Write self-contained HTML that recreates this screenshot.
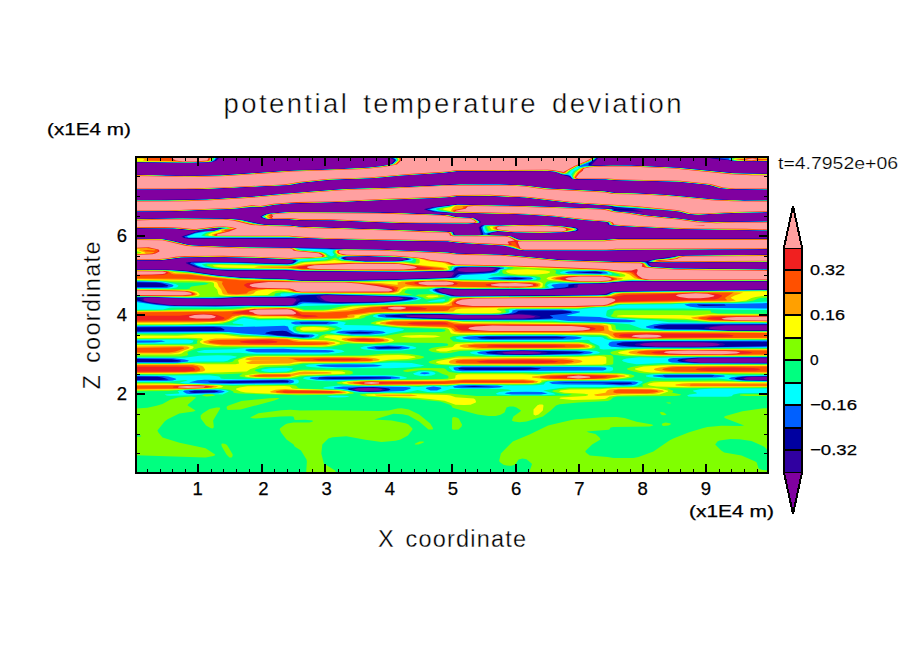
<!DOCTYPE html>
<html><head><meta charset="utf-8"><style>
html,body{margin:0;padding:0;background:#fff;width:904px;height:654px;overflow:hidden}
svg{position:absolute;left:0;top:0}
text{font-family:"Liberation Sans",sans-serif;fill:#000}
</style></head><body>
<svg width="904" height="654" viewBox="0 0 904 654" shape-rendering="crispEdges">
<rect x="0" y="0" width="904" height="654" fill="#fff"/>
<g><clipPath id="fc"><rect x="136" y="157" width="632" height="316"/></clipPath><g clip-path="url(#fc)" shape-rendering="auto"><rect x="136" y="157" width="632" height="316" fill="#8000a0"/>
<path fill="#3000a0" fill-rule="evenodd" d="M207.5 162.6 186.5 163.1 133.5 162.3 133.4 154.5 219.5 154.5 219.5 157.5 216.7 160.5 212.5 162.0 207.5 162.6ZM770.5 189.9 745.5 189.9 726.5 189.1 717.5 188.0 709.8 185.5 703.7 184.5 678.5 182.1 613.5 180.3 604.8 179.5 589.5 179.9 574.5 179.3 571.5 178.8 568.5 176.5 561.5 174.8 556.6 172.5 552.3 171.5 547.5 171.2 456.5 171.4 445.5 173.0 404.1 175.5 364.5 179.0 339.7 179.5 324.0 180.5 297.7 183.5 293.5 184.9 290.5 185.2 203.5 189.3 133.5 189.4 133.4 176.5 133.5 174.6 183.5 175.8 212.5 175.5 296.5 170.1 326.7 169.5 367.2 167.5 384.3 165.5 389.4 164.5 391.5 163.5 394.2 160.5 389.4 157.5 389.4 154.5 597.8 154.5 598.0 158.5 592.1 164.5 592.0 165.5 629.5 165.2 681.5 167.8 740.1 173.5 770.5 173.8 770.5 189.9ZM770.5 161.6 735.5 161.2 727.5 160.0 709.1 158.5 713.5 157.9 732.2 157.5 732.2 154.5 770.5 154.5 770.5 161.6ZM770.5 230.9 711.5 229.5 678.5 229.2 615.5 226.1 609.5 225.2 607.9 224.5 607.1 222.5 601.6 221.5 581.5 220.1 551.9 216.5 522.1 214.5 493.5 213.5 451.5 213.0 433.5 211.9 423.7 209.5 426.0 208.5 432.5 207.2 456.5 204.3 529.5 205.9 599.5 208.5 610.4 208.5 612.4 207.5 606.6 205.5 569.5 203.1 532.7 198.5 502.5 196.5 457.5 196.4 439.5 198.1 395.0 199.5 325.5 202.9 292.5 203.5 278.4 204.5 262.5 207.3 245.5 207.8 235.5 209.1 177.5 211.3 133.5 211.4 133.4 201.5 133.5 200.1 203.6 199.5 223.5 197.9 252.1 196.5 314.5 190.9 345.5 188.8 391.2 187.5 456.5 184.1 499.5 184.1 519.5 184.9 551.6 188.5 605.5 191.0 615.5 192.7 633.5 192.9 668.5 194.8 717.3 199.5 745.5 200.5 770.5 200.1 770.5 212.4 722.6 213.5 697.5 215.1 687.5 214.2 677.2 211.5 668.1 210.5 641.5 209.2 632.6 209.5 643.5 211.5 638.5 211.7 622.5 210.9 620.3 211.5 626.5 211.9 649.1 215.5 675.5 218.0 703.7 221.5 718.5 221.8 770.5 221.1 770.5 230.9ZM628.7 208.5 622.5 208.5 628.7 208.5ZM619.3 210.5 615.6 210.5 619.3 210.5ZM473.5 223.6 458.5 223.9 447.5 223.5 398.5 223.3 332.5 220.5 298.5 220.3 289.5 219.4 269.5 219.4 264.5 218.7 261.0 217.5 260.1 216.5 265.5 214.1 269.5 213.2 289.5 211.7 376.5 212.1 409.8 213.5 432.5 213.9 449.5 214.8 456.5 216.7 474.5 218.0 479.5 220.6 480.7 221.5 481.0 222.5 473.5 223.6ZM607.5 250.5 524.5 250.6 518.5 250.0 506.0 246.5 499.2 245.5 456.5 243.1 446.5 241.5 401.5 241.2 299.5 238.3 286.5 238.8 187.5 238.7 183.5 237.9 181.3 236.5 198.5 231.0 212.4 230.5 219.2 228.5 211.1 228.5 204.6 229.5 204.5 230.4 195.5 230.4 187.5 230.2 171.5 228.5 133.5 228.4 133.5 218.8 186.5 218.1 215.5 218.1 232.5 218.8 242.5 219.8 263.5 224.5 290.5 225.2 299.5 226.5 449.5 231.6 454.1 232.5 454.5 234.5 457.5 235.5 477.5 235.5 480.5 234.7 480.8 234.5 478.6 227.5 480.9 225.5 484.5 224.9 547.5 224.9 573.5 227.2 577.5 228.2 578.8 229.5 578.0 230.5 576.5 230.9 568.5 232.1 546.5 233.2 516.5 232.9 497.5 231.4 490.2 233.5 490.0 234.5 494.0 235.5 510.5 235.9 519.8 239.5 522.5 239.7 602.5 239.8 618.5 238.6 770.5 238.6 770.6 239.5 770.5 249.4 694.5 249.5 607.5 250.5ZM770.5 475.6 133.5 475.5 133.5 269.4 166.5 269.6 182.5 270.3 191.5 271.1 220.8 275.5 242.6 277.5 287.5 278.9 304.5 280.5 384.5 279.5 445.5 277.6 451.5 276.5 453.7 273.5 453.9 272.5 445.5 271.7 394.5 272.3 301.5 271.4 282.5 270.4 226.5 270.8 202.5 268.9 194.5 267.2 186.3 263.5 185.8 262.5 194.5 261.6 206.5 261.5 286.5 263.5 290.5 263.2 293.4 261.5 293.1 260.5 292.5 260.3 285.6 259.5 260.5 258.3 219.5 257.3 183.5 257.8 162.5 260.4 133.5 260.5 133.5 238.6 163.5 238.9 173.5 240.9 187.5 244.5 195.8 245.5 261.5 247.5 301.5 247.5 390.5 249.8 424.1 251.5 448.5 252.1 457.1 253.5 507.5 254.7 555.2 259.5 613.8 261.5 644.5 261.5 655.5 259.1 679.5 255.7 770.5 254.6 770.5 262.3 651.5 262.5 649.5 262.9 649.0 263.5 650.5 265.5 652.8 266.5 679.5 268.2 770.5 269.2 770.5 281.4 634.5 281.4 617.5 282.3 603.5 283.6 580.5 284.3 578.6 284.5 577.5 285.4 577.9 286.5 577.3 287.5 576.5 287.7 546.5 290.0 461.5 289.8 444.5 288.9 438.4 289.5 438.4 290.5 439.9 291.5 443.5 292.9 455.5 295.6 465.5 296.0 599.5 294.7 604.5 294.3 610.5 291.9 618.5 291.2 770.5 289.5 770.5 325.3 725.5 325.4 712.5 326.9 709.7 327.5 708.7 328.5 713.8 329.5 726.5 330.2 770.5 330.4 770.5 358.2 700.5 358.2 688.5 359.2 684.6 360.5 689.5 361.8 700.5 362.7 770.5 362.8 770.5 376.8 751.5 377.1 746.5 377.5 743.3 378.5 745.6 379.5 750.5 380.0 770.5 380.2 770.5 475.6ZM401.3 260.5 406.0 259.5 406.0 258.5 400.0 257.5 377.3 256.5 352.5 256.5 345.3 257.5 345.7 258.5 348.0 259.5 362.5 260.8 391.5 261.1 401.3 260.5ZM484.1 271.5 491.5 270.7 496.0 268.5 488.5 267.4 470.5 267.2 460.5 268.1 457.1 269.5 458.5 270.9 465.5 271.9 473.5 272.1 484.1 271.5ZM383.7 301.5 398.5 299.9 403.8 298.5 398.5 297.3 375.5 296.2 329.5 295.2 323.5 295.5 320.3 296.5 320.5 297.5 324.8 300.5 331.5 301.9 358.5 302.1 383.7 301.5ZM227.6 305.5 245.5 304.9 288.5 305.2 292.7 304.5 296.2 300.5 296.3 299.5 293.5 298.2 286.5 297.8 243.5 297.6 216.5 299.0 193.5 299.1 151.5 297.4 145.5 297.9 143.7 298.5 143.4 299.5 144.0 300.5 148.5 302.0 170.5 304.9 187.5 305.6 227.6 305.5ZM525.2 318.5 533.5 317.5 535.5 316.5 529.5 315.2 518.5 314.6 494.5 315.4 435.5 314.9 405.5 315.5 407.3 316.5 411.5 316.9 457.5 318.8 525.2 318.5ZM706.8 346.5 717.5 345.6 720.1 344.5 716.9 343.5 710.5 342.8 691.5 342.3 654.5 342.4 644.5 343.2 639.6 344.5 643.5 345.7 655.5 346.6 706.8 346.5ZM539.6 353.5 541.6 352.5 533.4 351.5 521.5 351.2 510.4 351.5 502.2 352.5 504.1 353.5 514.5 354.1 529.5 354.1 539.6 353.5ZM380.3 390.5 382.8 389.5 377.5 388.3 368.5 387.9 358.5 388.3 354.0 389.5 357.0 390.5 363.5 391.1 380.3 390.5Z"/>
<path fill="#0000a0" fill-rule="evenodd" d="M201.5 162.6 185.5 162.9 133.5 162.2 133.4 154.5 218.4 154.5 218.4 157.5 215.7 160.5 210.5 162.1 201.5 162.6ZM770.5 189.7 746.5 189.7 727.5 189.0 717.5 187.8 710.6 185.5 704.9 184.5 677.5 181.8 613.5 180.2 605.5 179.4 589.5 179.7 574.5 179.2 571.5 178.5 570.5 177.2 568.5 176.0 561.5 174.4 557.3 172.5 553.4 171.5 547.5 171.1 456.5 171.3 444.5 172.9 402.4 175.5 376.5 178.0 323.5 180.4 297.5 183.4 290.5 185.1 202.5 189.2 133.5 189.3 133.4 176.5 133.5 174.8 184.5 175.9 215.4 175.5 286.5 170.9 328.5 169.5 368.5 167.5 385.2 165.5 390.3 164.5 392.2 163.5 395.0 160.5 394.2 159.5 390.5 157.5 390.5 154.5 597.1 154.5 597.1 158.5 592.4 162.5 590.2 165.5 627.5 165.3 664.5 166.9 681.5 168.0 737.7 173.5 770.5 173.9 770.5 189.7ZM770.5 161.4 735.5 161.1 728.5 159.9 710.9 158.5 739.5 157.5 739.5 154.5 770.5 154.5 770.5 161.4ZM703.5 214.6 696.5 215.0 688.5 214.2 678.2 211.5 669.5 210.5 630.5 208.2 616.5 208.0 607.9 205.5 570.5 203.0 524.0 197.5 490.5 196.1 457.5 196.3 438.5 198.0 393.5 199.5 325.5 202.7 291.5 203.4 277.2 204.5 261.5 207.2 245.5 207.5 234.5 209.0 176.5 211.2 133.5 211.4 133.4 201.5 133.5 200.3 205.5 199.5 254.1 196.5 279.5 194.0 344.5 189.0 392.5 187.5 460.5 184.3 498.5 184.3 518.5 185.0 549.8 188.5 604.5 191.1 615.5 192.9 632.5 193.1 667.5 194.9 715.5 199.5 744.5 200.6 770.5 200.3 770.5 212.2 721.5 213.4 703.5 214.6ZM770.5 230.7 679.5 229.1 616.5 226.0 609.5 225.0 608.5 224.5 607.8 222.5 603.2 221.5 582.5 220.1 553.5 216.5 523.5 214.5 492.5 213.4 452.5 212.9 433.5 211.6 425.1 209.5 432.5 207.5 456.5 204.5 527.5 206.0 627.5 209.2 635.4 210.5 626.5 210.6 617.5 209.8 613.7 210.5 647.8 215.5 674.5 218.0 701.7 221.5 717.5 221.9 770.5 221.3 770.5 230.7ZM471.5 223.6 399.5 223.2 332.5 220.4 298.5 220.2 289.5 219.3 270.5 219.3 265.5 218.8 261.8 217.5 260.8 216.5 265.5 214.3 270.5 213.3 287.5 211.9 377.5 212.3 432.5 214.0 449.5 215.0 455.5 216.7 474.5 218.2 479.5 221.1 480.3 222.5 471.5 223.6ZM687.5 249.6 604.5 250.5 524.5 250.4 518.5 249.8 506.9 246.5 501.1 245.5 457.5 243.0 447.5 241.4 401.5 241.0 298.5 238.1 286.5 238.5 189.5 238.5 184.5 237.7 182.6 236.5 194.5 232.4 201.5 231.1 212.5 230.7 217.4 229.5 220.5 228.2 219.5 227.8 212.5 228.2 201.5 230.1 195.5 230.3 188.5 230.1 172.5 228.4 133.5 228.2 133.4 220.5 133.5 219.0 183.5 218.3 214.5 218.3 230.5 218.9 241.5 219.9 263.5 224.6 289.5 225.3 299.5 226.6 449.5 231.7 453.4 232.5 453.9 234.5 455.5 235.5 458.5 235.6 476.5 235.6 480.5 235.1 482.0 234.5 479.7 227.5 481.8 225.5 485.5 225.0 500.5 225.5 519.5 224.8 547.5 225.1 572.5 227.3 576.5 228.1 578.1 229.5 577.1 230.5 575.5 230.9 564.5 232.3 529.5 233.0 515.5 232.6 498.5 231.2 495.6 231.5 489.0 233.5 488.8 234.5 492.0 235.5 510.5 236.0 518.9 239.5 522.5 239.9 603.5 239.9 616.5 238.8 770.5 238.8 770.5 249.2 687.5 249.6ZM770.5 475.5 133.5 475.5 133.5 269.6 173.5 270.1 189.5 271.2 218.2 275.5 239.5 277.5 286.5 279.1 299.5 280.6 311.5 280.7 394.5 279.6 447.5 277.8 450.6 277.5 453.5 276.5 455.0 274.5 458.5 272.6 473.5 272.7 488.5 271.8 493.5 270.9 498.3 268.5 494.5 267.5 488.5 267.1 467.5 266.9 458.5 267.8 455.6 269.5 455.5 270.7 453.5 271.3 404.5 272.0 301.5 271.2 284.5 270.1 227.5 270.4 215.5 269.8 197.3 267.5 187.9 263.5 187.9 262.5 199.5 261.9 237.5 262.3 287.5 263.9 292.5 263.1 294.6 261.5 294.6 260.5 288.8 259.5 262.5 258.2 214.5 257.1 183.1 257.5 161.5 260.3 133.5 260.4 133.5 238.7 162.5 239.0 173.5 241.1 188.5 244.8 193.6 245.5 214.5 246.5 262.5 247.6 325.5 248.2 335.5 248.9 387.5 249.8 419.3 251.5 447.5 252.3 456.5 253.6 506.5 254.8 554.5 259.6 613.5 261.6 645.5 261.8 656.5 259.2 680.5 255.7 770.5 254.7 770.5 262.1 647.7 262.5 649.6 265.5 651.5 266.5 660.8 267.5 682.5 268.6 770.5 269.4 770.5 281.2 633.5 281.2 618.5 281.9 604.5 283.3 579.5 283.9 574.8 284.5 574.0 285.5 574.5 286.5 572.2 287.5 545.5 289.7 461.5 289.5 443.5 288.5 436.4 289.5 436.7 290.5 438.2 291.5 443.5 293.4 454.5 295.9 464.5 296.3 597.5 295.0 605.7 294.5 611.5 292.1 618.5 291.5 770.5 289.8 770.5 324.7 721.5 325.0 707.5 326.7 704.7 327.5 704.3 328.5 709.4 329.5 725.5 330.5 770.5 330.6 770.5 357.8 699.5 357.9 686.5 358.9 683.3 359.5 681.5 360.5 686.5 361.9 699.5 363.0 770.5 363.1 770.5 376.5 748.5 376.8 742.4 377.5 739.6 378.5 741.7 379.5 748.5 380.2 770.5 380.6 770.5 475.5ZM402.9 260.5 407.5 259.5 407.3 258.5 399.5 257.3 377.5 256.4 350.5 256.4 343.8 257.5 344.0 258.5 346.1 259.5 364.5 261.2 393.5 261.3 402.9 260.5ZM361.7 302.5 386.5 301.7 401.5 300.1 408.2 298.5 405.3 297.5 391.1 296.5 334.5 294.9 321.5 295.1 318.0 295.5 316.1 296.5 317.5 298.3 320.7 300.5 326.5 302.0 337.5 302.6 361.7 302.5ZM290.4 305.5 294.8 304.5 296.1 302.5 299.6 300.5 300.2 299.5 299.3 298.5 297.5 298.0 289.5 297.4 242.5 297.3 215.5 298.7 194.5 298.8 151.5 297.1 143.5 297.5 140.1 298.5 140.0 299.5 143.9 301.5 149.5 302.7 166.5 305.0 178.5 305.7 290.4 305.5ZM533.2 318.5 539.4 317.5 540.7 316.5 535.5 314.9 521.5 313.8 496.5 315.1 418.5 314.5 407.5 314.7 399.8 315.5 400.9 316.5 409.5 317.3 458.5 319.2 516.5 319.3 533.2 318.5ZM714.7 346.5 723.4 345.5 725.3 344.5 722.5 343.3 714.5 342.3 693.5 341.7 651.5 342.0 639.5 342.9 636.5 343.5 634.5 344.5 636.4 345.5 640.5 346.1 655.5 347.0 699.5 347.1 714.7 346.5ZM532.5 354.5 545.9 353.5 547.9 352.5 542.3 351.5 521.5 350.8 501.6 351.5 496.2 352.5 498.0 353.5 506.5 354.3 532.5 354.5ZM372.0 391.5 382.5 390.7 386.0 389.5 380.5 388.0 368.5 387.5 356.5 388.0 353.2 388.5 351.2 389.5 354.3 390.5 359.5 391.2 372.0 391.5Z"/>
<path fill="#0060ff" fill-rule="evenodd" d="M198.5 162.5 133.5 162.0 133.4 154.5 217.2 154.5 217.2 157.5 214.7 160.5 212.5 161.5 208.5 162.2 198.5 162.5ZM770.5 189.5 728.5 188.9 718.5 187.9 711.2 185.5 705.9 184.5 677.5 181.7 614.5 180.1 605.5 179.3 575.5 179.1 572.0 178.5 570.5 176.6 567.5 175.2 561.5 174.2 554.2 171.5 547.5 171.0 456.5 171.2 443.5 172.9 401.5 175.5 375.5 178.0 330.5 179.7 303.1 182.5 289.5 185.0 202.5 189.1 133.5 189.3 133.4 176.5 133.5 174.9 185.5 176.1 218.4 175.5 287.5 170.9 329.5 169.6 368.5 167.6 386.1 165.5 391.1 164.5 393.0 163.5 395.7 160.5 395.2 159.5 391.8 157.5 391.8 154.5 596.4 154.5 596.3 158.5 588.4 163.5 588.8 164.5 588.2 165.5 593.5 165.9 628.5 165.5 662.5 167.0 680.5 168.1 735.7 173.5 770.5 174.1 770.5 189.5ZM770.5 161.3 735.5 161.0 724.5 158.9 716.7 158.5 737.5 157.7 770.5 157.7 770.5 161.3ZM702.5 214.5 696.5 214.8 688.5 214.1 679.0 211.5 669.5 210.4 617.5 207.3 608.5 205.4 571.5 203.0 524.5 197.4 489.5 196.0 457.5 196.2 436.5 197.9 392.5 199.4 337.5 202.1 291.5 203.3 276.5 204.5 261.5 207.1 244.5 207.4 234.5 208.9 169.5 211.2 133.5 211.3 133.4 201.5 133.5 200.5 165.5 200.4 205.5 199.6 255.7 196.5 280.5 194.1 345.5 189.0 393.5 187.6 460.5 184.5 498.5 184.5 517.5 185.1 548.5 188.5 603.5 191.2 614.5 193.0 631.5 193.2 666.5 195.0 715.5 199.6 744.5 200.7 770.5 200.5 770.5 212.1 721.5 213.3 702.5 214.5ZM770.5 230.5 680.5 229.1 617.5 225.9 610.5 225.1 609.1 224.5 608.4 222.5 604.5 221.5 582.5 219.9 554.5 216.5 523.5 214.4 493.5 213.3 453.5 212.8 435.0 211.5 426.7 209.5 434.3 207.5 457.5 204.7 527.5 206.1 610.5 209.0 614.0 209.5 612.7 210.5 617.2 211.5 624.5 212.1 646.8 215.5 681.5 219.0 700.5 221.5 716.5 222.1 770.5 221.5 770.5 230.5ZM468.5 223.5 400.5 223.1 332.5 220.3 299.5 220.1 289.5 219.2 270.5 219.2 265.5 218.6 262.5 217.5 261.5 216.5 268.5 213.8 288.5 212.0 393.5 212.9 449.5 215.2 455.5 216.9 473.5 218.1 478.5 220.7 479.5 221.5 479.7 222.5 468.5 223.5ZM683.5 249.5 603.5 250.4 524.5 250.3 519.5 249.9 502.5 245.5 457.5 242.8 447.5 241.3 402.5 240.9 297.5 237.9 189.5 238.0 185.3 237.5 184.2 236.5 195.8 232.5 202.5 231.3 213.5 230.8 224.8 227.5 218.0 227.5 195.5 230.2 172.5 228.3 133.5 228.1 133.4 220.5 133.5 219.1 183.5 218.5 229.5 218.9 241.5 220.1 263.5 224.7 290.5 225.6 299.5 226.7 449.5 231.9 452.9 232.5 453.4 234.5 454.7 235.5 457.5 235.7 480.8 235.5 483.4 234.5 481.0 227.5 482.9 225.5 485.5 225.2 500.5 225.6 519.5 224.9 546.5 225.2 571.5 227.4 576.5 228.4 577.4 229.5 575.5 230.7 563.5 232.2 530.5 232.9 512.5 232.3 497.5 231.1 487.5 233.5 487.4 234.5 490.6 235.5 510.5 236.2 518.2 239.5 522.5 240.0 603.5 240.1 617.5 238.9 770.5 238.9 770.5 249.1 683.5 249.5ZM770.5 475.5 133.5 475.5 133.5 380.1 160.5 380.1 168.8 379.5 162.5 377.5 157.5 376.7 133.5 376.5 133.5 362.0 171.5 362.0 180.7 361.5 180.4 360.5 171.5 359.2 133.5 359.1 133.5 331.4 216.5 331.1 224.2 330.5 224.5 329.5 220.8 327.5 213.5 326.9 133.5 327.2 133.5 300.4 136.5 300.4 146.5 302.8 154.5 304.0 174.5 306.0 222.5 306.3 248.5 305.6 284.5 306.0 294.5 305.4 297.1 304.5 299.0 302.5 302.5 301.8 336.5 303.2 375.5 302.8 399.5 301.1 410.6 299.5 413.9 298.5 411.1 297.5 397.5 296.4 327.5 294.4 301.5 295.2 298.6 295.5 295.9 296.5 291.5 296.8 240.5 297.1 212.5 298.4 187.5 298.4 151.5 296.9 133.5 297.7 133.5 287.1 162.5 287.0 167.4 286.5 168.5 285.5 162.9 283.5 156.0 282.5 133.5 282.1 133.5 269.7 170.5 270.1 188.5 271.4 215.9 275.5 239.5 277.8 285.5 279.3 299.5 280.8 312.5 280.9 394.5 279.9 449.5 278.0 453.7 277.5 455.7 276.5 457.5 274.7 459.5 274.0 490.5 272.4 494.5 271.5 497.8 269.5 500.9 268.5 499.6 267.5 489.5 266.9 463.5 266.7 456.6 267.5 455.0 268.5 453.7 270.5 451.5 271.0 402.5 271.8 301.5 270.9 284.5 269.9 228.5 270.0 216.0 269.5 199.8 267.5 189.9 263.5 191.5 262.5 207.5 262.3 236.5 262.6 287.5 264.2 292.9 263.5 295.9 261.5 296.2 260.5 291.8 259.5 263.5 258.1 215.5 257.0 181.5 257.4 161.5 260.1 133.5 260.3 133.5 238.8 162.5 239.1 172.5 241.0 186.5 244.6 194.5 245.6 260.5 247.7 291.5 247.8 326.5 248.5 333.5 249.2 380.5 249.7 443.5 252.3 456.5 253.7 506.5 254.9 557.5 259.9 613.5 261.8 643.5 262.0 646.5 262.6 648.9 265.5 651.5 266.7 676.1 268.5 770.5 269.6 770.5 281.1 632.5 280.9 620.5 281.5 604.5 283.0 575.5 283.7 568.4 284.5 568.4 286.5 564.6 287.5 543.5 289.4 461.5 289.2 443.5 288.2 437.9 288.5 434.5 289.5 434.9 290.5 436.5 291.6 441.8 293.5 453.5 296.2 463.5 296.6 585.5 295.5 604.5 294.9 607.4 294.5 611.5 292.4 618.5 291.7 770.5 290.0 770.5 324.2 667.5 324.6 659.5 325.3 653.8 326.5 653.9 327.5 659.3 328.5 667.5 329.1 697.5 329.3 727.5 330.8 770.5 330.9 770.5 341.9 758.5 341.5 655.5 341.2 622.5 342.3 616.9 343.5 616.6 344.5 619.6 345.5 629.2 346.5 658.5 347.4 701.5 347.4 770.5 346.0 770.5 357.4 697.5 357.6 682.5 358.7 678.6 359.5 677.3 360.5 679.0 361.5 682.5 362.1 698.5 363.3 770.5 363.4 770.5 376.1 746.5 376.4 737.4 377.5 734.5 378.5 737.0 379.5 746.0 380.5 770.5 380.9 770.5 475.5ZM770.5 262.0 659.5 262.3 650.5 262.1 647.8 261.5 654.5 259.8 665.2 258.5 680.5 255.8 770.5 254.9 770.5 262.0ZM395.7 261.5 402.5 260.9 409.0 259.5 408.7 258.5 401.5 257.4 370.5 256.2 346.5 256.4 342.4 257.5 342.3 258.5 344.3 259.5 346.5 259.8 364.5 261.4 395.7 261.5ZM600.6 273.5 603.1 272.5 595.5 271.6 573.4 272.5 600.6 273.5ZM515.6 279.5 527.6 278.5 515.5 277.5 498.1 278.5 515.6 279.5ZM725.9 305.5 724.4 304.5 721.5 304.4 696.8 304.5 698.7 305.5 703.5 305.9 725.9 305.5ZM529.9 319.5 550.8 318.5 553.3 317.5 549.7 315.5 550.5 315.2 566.5 313.6 572.1 312.5 571.0 311.5 562.5 310.5 522.5 310.4 518.5 310.7 516.0 312.5 512.8 313.5 500.5 314.7 461.5 314.9 442.5 314.1 412.5 314.1 384.9 315.5 386.1 316.5 401.4 317.5 459.5 319.7 529.9 319.5ZM326.4 323.5 329.1 322.5 299.2 322.5 301.2 323.5 302.5 323.6 326.4 323.5ZM308.8 336.5 309.6 335.5 292.5 334.2 286.5 331.3 282.5 330.7 271.5 331.3 266.3 332.5 265.1 333.5 278.0 335.5 302.5 336.9 308.8 336.5ZM367.9 333.5 374.8 332.5 359.5 331.7 344.7 332.5 351.1 333.5 367.9 333.5ZM562.9 338.5 566.8 337.5 556.7 336.5 507.5 336.4 487.0 336.5 477.0 337.5 480.9 338.5 491.5 338.9 562.9 338.5ZM398.7 348.5 402.2 347.5 388.5 346.6 374.4 347.5 376.6 348.5 380.5 348.8 398.7 348.5ZM545.5 354.5 579.5 353.6 584.4 352.5 576.5 351.4 521.5 350.4 496.5 351.1 490.2 351.5 485.4 352.5 487.8 353.5 503.5 354.8 526.5 355.0 545.5 354.5ZM353.8 365.5 339.0 365.5 353.8 365.5ZM537.8 369.5 541.1 368.5 530.5 367.5 472.5 367.4 460.9 367.5 458.0 368.5 459.5 369.6 465.5 370.0 523.5 370.0 537.8 369.5ZM712.4 376.5 714.5 375.5 662.6 375.5 664.9 376.5 668.5 376.6 712.4 376.5ZM390.6 378.5 391.0 377.5 367.5 377.1 324.5 377.2 319.3 377.5 317.8 378.5 332.5 379.1 390.6 378.5ZM287.8 382.5 289.0 381.5 287.5 380.5 282.5 380.3 207.9 381.5 210.1 382.5 229.5 383.1 287.8 382.5ZM632.3 383.5 631.1 382.5 627.5 382.4 556.7 382.5 565.5 383.1 602.5 383.2 620.5 384.4 627.5 384.2 632.3 383.5ZM494.3 386.5 474.5 386.0 458.9 386.5 472.5 387.0 494.3 386.5ZM380.2 391.5 388.6 390.5 390.5 389.5 388.8 388.5 385.5 387.9 373.5 387.0 358.5 387.2 348.1 388.5 348.2 389.5 351.8 390.5 359.5 391.6 369.5 391.9 380.2 391.5ZM214.1 392.5 219.1 391.5 214.7 390.5 208.5 390.4 194.9 390.5 188.9 391.5 190.6 392.5 194.5 393.0 214.1 392.5Z"/>
<path fill="#00ffff" fill-rule="evenodd" d="M192.5 162.5 133.5 161.9 133.5 154.5 215.8 154.5 215.8 157.5 214.7 159.5 211.7 161.5 207.5 162.1 192.5 162.5ZM770.5 189.4 729.5 188.9 718.5 187.7 711.9 185.5 706.5 184.5 677.7 181.5 614.5 180.0 605.5 179.2 575.5 179.0 572.6 178.5 570.5 175.8 568.5 174.8 562.5 174.2 555.0 171.5 547.5 170.8 456.5 171.1 442.5 172.8 401.5 175.4 374.5 177.9 331.1 179.5 302.1 182.5 289.5 184.9 202.5 189.0 133.5 189.2 133.4 176.5 133.5 175.0 185.5 176.2 220.5 175.5 288.5 171.0 329.5 169.7 368.5 167.7 380.4 166.5 392.5 164.2 396.5 160.5 396.1 159.5 393.4 157.5 393.4 154.5 595.9 154.5 595.9 157.5 594.5 159.3 589.5 162.0 580.6 165.5 577.9 167.5 586.5 165.9 631.5 165.7 679.5 168.1 734.5 173.5 770.5 174.2 770.5 189.4ZM770.5 161.1 735.5 160.8 729.2 159.5 728.7 158.5 737.5 157.9 770.5 157.8 770.5 161.1ZM700.5 214.6 688.5 213.9 679.7 211.5 670.5 210.4 616.5 206.7 608.5 205.3 572.5 203.0 524.5 197.3 489.5 195.8 456.5 196.1 449.5 197.1 434.5 197.9 391.5 199.3 336.5 202.0 291.5 203.2 275.5 204.5 261.5 206.9 252.5 206.8 234.5 208.7 169.5 211.1 133.5 211.2 133.4 201.5 133.5 200.6 166.5 200.6 206.5 199.7 256.5 196.6 281.5 194.1 346.5 189.1 393.5 187.7 460.5 184.6 499.5 184.6 516.5 185.2 527.5 186.0 548.5 188.6 603.5 191.4 614.5 193.1 630.5 193.3 665.5 195.1 715.5 199.7 744.5 200.8 770.5 200.6 770.5 212.0 721.5 213.2 700.5 214.6ZM770.5 230.4 681.5 229.0 618.5 225.8 610.5 224.9 609.6 224.5 608.9 222.5 605.6 221.5 583.5 219.9 554.5 216.4 524.5 214.3 493.5 213.2 454.5 212.7 437.5 211.2 429.3 209.5 437.4 207.5 457.5 204.8 520.5 206.0 608.5 209.1 612.0 209.5 611.9 210.5 616.1 211.5 630.5 213.1 646.5 215.6 681.5 219.1 699.5 221.6 716.5 222.2 770.5 221.6 770.5 230.4ZM478.5 222.7 467.5 223.4 400.5 223.0 332.5 220.2 299.5 220.0 289.5 219.1 270.5 219.1 266.0 218.5 263.3 217.5 262.2 216.5 266.4 214.5 269.5 213.8 289.5 212.1 300.5 212.6 391.5 213.0 448.5 215.2 455.5 217.1 473.5 218.3 479.0 221.5 479.1 222.5 478.5 222.7ZM650.5 249.5 603.5 250.3 524.5 250.2 519.5 249.7 508.6 246.5 502.5 245.4 458.5 242.8 447.5 241.2 402.5 240.7 289.5 237.6 188.5 237.5 186.7 236.5 195.1 233.5 204.5 231.7 214.5 230.9 220.5 229.0 224.2 228.5 226.2 227.5 216.5 227.5 199.5 229.9 194.5 230.1 172.5 228.2 133.5 228.0 133.4 220.5 133.5 219.3 182.5 218.6 229.5 219.1 241.5 220.3 257.5 224.0 264.5 224.9 290.5 225.7 298.5 226.8 448.5 231.9 452.3 232.5 452.9 234.5 454.5 235.6 477.5 235.8 485.5 234.7 491.5 235.7 507.5 235.9 511.0 236.5 518.5 239.8 522.5 240.2 603.5 240.2 617.5 239.0 770.5 239.0 770.5 249.0 650.5 249.5ZM549.5 232.5 515.5 232.3 497.5 230.9 485.5 232.9 483.8 231.5 482.6 227.5 484.1 225.5 486.5 225.3 500.5 225.7 519.5 225.0 544.5 225.3 559.5 226.1 570.5 227.5 575.5 228.4 576.8 229.5 575.4 230.5 566.5 231.9 549.5 232.5ZM770.5 475.5 133.5 475.5 133.5 381.1 166.5 381.0 172.7 380.5 176.3 379.5 175.5 378.4 168.1 376.5 163.5 375.9 133.5 375.6 133.5 362.8 177.5 362.7 187.7 361.5 188.9 360.5 184.5 359.4 173.5 358.3 133.5 358.1 133.5 342.8 154.5 342.6 165.4 341.5 161.4 340.5 133.5 340.5 133.5 332.4 228.5 331.9 242.4 333.5 303.5 337.9 311.4 337.5 314.9 335.5 312.5 334.4 299.5 333.9 294.5 333.0 289.1 329.5 287.9 326.5 284.5 325.7 238.5 327.1 213.5 325.9 133.5 326.3 133.5 301.9 136.5 301.9 156.5 305.1 169.5 306.3 215.5 306.8 246.5 306.0 287.5 306.3 296.5 305.7 302.2 303.5 304.5 303.3 341.5 303.9 383.5 303.0 405.5 301.1 415.8 299.5 418.2 298.5 414.5 297.2 404.5 296.3 326.5 294.0 295.5 294.4 290.5 295.7 284.5 296.5 239.5 296.8 212.5 298.0 187.5 298.0 151.5 296.7 133.5 297.1 133.5 288.0 166.5 287.9 171.5 287.1 172.9 286.5 173.6 285.5 172.1 284.5 168.5 283.5 160.5 282.0 133.5 281.3 133.5 269.9 165.5 270.1 186.0 271.5 216.5 275.8 245.5 278.4 285.5 279.6 301.5 281.0 354.5 280.9 397.5 280.1 454.5 278.1 457.7 277.5 460.4 275.5 462.5 275.1 483.5 274.1 494.5 272.7 496.5 272.0 499.5 269.5 503.8 268.5 504.1 267.5 485.5 266.5 458.5 266.4 454.5 267.3 452.5 270.1 450.5 270.7 404.5 271.6 302.5 270.8 285.5 269.6 228.5 269.6 217.5 269.2 203.6 267.5 197.3 265.5 193.7 263.5 205.5 262.8 234.5 263.1 287.5 264.6 293.5 263.8 298.5 260.5 295.4 259.5 262.5 257.9 215.5 256.8 181.5 257.3 160.5 260.1 133.5 260.1 133.5 238.9 161.5 239.2 172.5 241.2 186.5 244.8 193.5 245.7 215.5 246.7 260.5 247.8 291.5 247.9 304.5 248.8 331.5 249.5 380.5 249.8 447.5 252.6 456.5 253.8 504.5 254.9 557.5 260.0 613.5 261.9 642.5 262.1 645.5 262.7 648.5 265.8 651.5 266.9 674.5 268.6 770.5 269.7 770.5 280.9 632.5 280.7 620.5 281.2 602.5 282.9 560.2 283.5 552.7 284.5 551.2 285.5 554.6 287.5 550.6 288.5 542.5 289.1 462.5 288.9 443.5 288.0 435.5 288.4 432.5 289.5 432.8 290.5 434.3 291.5 438.5 293.2 445.5 294.5 451.5 296.4 460.5 296.8 596.5 295.6 606.5 295.0 608.8 294.5 612.8 292.5 618.5 292.0 770.5 290.2 770.5 303.0 736.5 303.7 695.5 303.4 690.4 303.5 684.4 304.5 686.2 305.5 690.5 306.7 699.5 307.8 770.5 308.5 770.5 323.5 662.5 323.4 654.5 324.2 645.9 326.5 646.3 327.5 650.6 328.5 664.5 329.9 701.5 330.1 728.5 331.1 770.5 331.1 770.5 340.6 625.5 341.0 612.1 341.5 609.3 342.5 608.3 344.5 609.5 345.9 611.5 346.8 622.5 347.5 689.5 347.8 770.5 347.3 770.5 357.1 697.5 357.2 673.5 358.1 669.6 358.5 668.0 359.5 668.5 361.5 672.0 362.5 694.5 363.6 770.5 363.8 770.5 375.6 742.5 376.1 731.5 377.2 728.6 378.5 731.2 379.5 742.5 380.7 770.5 381.2 770.5 475.5ZM770.5 261.8 661.5 262.2 648.9 261.5 654.5 259.9 667.3 258.5 680.5 256.0 770.5 255.0 770.5 261.8ZM399.1 261.5 411.0 259.5 410.1 258.5 401.5 257.2 369.5 256.1 345.5 256.3 341.5 257.2 340.5 258.5 344.5 259.9 365.5 261.7 399.1 261.5ZM608.1 273.5 607.3 272.5 605.0 271.5 597.5 270.9 574.5 271.1 568.8 271.5 564.8 272.5 568.5 273.5 576.5 273.8 601.5 274.1 608.1 273.5ZM530.9 279.5 533.3 278.5 531.3 277.5 528.5 277.2 510.5 276.5 493.5 277.3 487.3 278.5 493.5 279.5 507.5 280.1 521.5 280.1 530.9 279.5ZM635.5 321.5 635.1 320.5 625.5 319.6 610.5 319.1 599.5 316.9 568.5 316.0 566.2 315.5 579.6 312.5 580.0 311.5 561.2 309.5 516.5 309.6 512.3 310.5 512.4 311.5 511.7 312.5 508.7 313.5 498.3 314.5 461.5 314.6 443.5 313.8 408.5 313.8 383.5 314.3 380.5 314.5 377.4 315.5 378.3 316.5 379.5 316.8 386.5 317.7 460.5 320.2 521.5 320.3 555.5 319.6 568.5 321.0 619.5 322.2 629.5 322.2 635.5 321.5ZM328.6 324.5 337.5 323.6 338.4 322.5 329.5 321.4 312.5 321.2 295.5 321.4 291.1 322.5 291.5 323.6 295.3 324.5 328.6 324.5ZM369.5 334.5 382.3 333.5 385.8 332.5 383.0 331.5 377.5 330.8 359.5 330.3 343.5 330.8 338.2 331.5 335.8 332.5 340.8 333.5 351.5 334.5 369.5 334.5ZM573.6 339.5 580.5 338.5 582.0 337.5 576.0 336.5 561.5 335.8 507.5 335.7 475.5 336.0 467.8 336.5 462.2 337.5 463.5 338.5 470.2 339.5 485.5 340.0 552.5 340.1 573.6 339.5ZM400.7 349.5 408.8 348.5 409.9 347.5 401.5 346.0 388.5 345.5 375.5 346.0 366.9 347.5 367.9 348.5 378.5 349.8 400.7 349.5ZM328.1 352.5 334.9 351.5 332.6 350.5 325.5 349.9 301.5 349.7 283.5 348.7 249.5 349.0 245.7 349.5 245.5 350.5 248.5 351.5 256.5 352.6 328.1 352.5ZM581.4 354.5 590.8 353.5 593.1 352.5 589.5 351.4 578.9 350.5 521.5 350.1 491.9 350.5 480.5 351.5 476.9 352.5 478.6 353.5 484.5 354.5 498.5 355.2 531.5 355.3 581.4 354.5ZM377.1 366.5 382.4 365.5 373.6 364.5 346.5 364.3 324.5 364.5 315.6 365.5 320.5 366.6 337.5 367.3 356.5 367.3 377.1 366.5ZM603.1 370.5 606.2 369.5 606.5 368.5 605.1 367.5 600.5 367.2 525.5 366.6 462.5 366.6 453.4 367.5 454.0 369.5 455.7 370.5 462.5 371.2 603.1 370.5ZM429.7 373.5 428.3 372.5 424.5 372.3 421.6 372.5 419.9 373.5 424.5 374.3 429.7 373.5ZM715.1 377.5 724.8 376.5 724.3 375.5 710.5 374.4 665.5 374.4 653.0 375.5 653.6 376.5 654.5 376.6 666.5 377.7 715.1 377.5ZM381.6 379.5 398.5 378.6 399.8 378.5 399.8 377.5 392.5 376.4 384.5 376.0 327.5 376.3 312.5 377.2 310.5 377.5 309.6 378.5 316.5 379.7 326.5 380.2 381.6 379.5ZM290.1 383.5 293.6 382.5 293.9 381.5 293.5 380.5 289.5 379.6 284.5 379.4 228.5 380.0 204.5 379.7 197.5 380.3 189.0 382.5 205.5 383.5 231.5 384.1 290.1 383.5ZM635.2 384.5 638.6 382.5 634.5 381.5 622.5 381.2 559.5 381.3 554.0 381.5 549.0 382.5 552.5 383.9 563.5 384.6 599.5 384.7 623.5 385.5 631.5 385.2 635.2 384.5ZM499.6 387.5 503.5 386.5 497.5 385.4 474.5 385.1 458.5 385.3 452.8 386.5 454.5 387.7 461.5 388.2 488.5 388.2 499.6 387.5ZM390.3 391.5 403.5 390.9 410.8 388.5 410.3 387.5 405.5 387.1 376.5 386.5 343.5 386.6 333.9 387.5 334.3 388.5 342.5 389.0 359.5 392.1 372.5 392.3 390.3 391.5ZM437.0 390.5 441.5 388.5 440.6 387.5 433.5 386.6 426.8 387.5 425.7 388.5 430.5 390.5 437.0 390.5ZM204.7 393.5 218.5 393.2 222.5 392.5 225.0 391.5 220.5 390.2 210.5 389.6 186.5 390.3 184.4 390.5 183.0 391.5 186.3 393.5 189.5 394.1 204.7 393.5ZM540.8 394.5 547.7 393.5 541.5 392.1 526.5 391.7 510.5 392.1 507.0 392.5 504.6 393.5 511.8 394.5 540.8 394.5Z"/>
<path fill="#00ff80" fill-rule="evenodd" d="M210.5 161.6 189.5 162.4 133.5 161.8 133.5 154.5 214.4 154.5 214.4 157.5 213.6 159.5 212.9 160.5 210.5 161.6ZM210.5 188.5 184.5 189.1 133.5 189.1 133.5 175.1 186.5 176.4 220.5 175.7 289.5 171.0 330.5 169.8 368.5 167.8 380.5 166.6 392.6 164.5 394.3 163.5 397.1 160.5 397.0 159.5 395.0 157.5 395.0 154.5 595.3 154.5 595.3 157.5 594.5 158.7 590.5 161.1 577.7 166.5 571.2 170.5 568.5 173.5 566.5 174.1 562.5 173.9 555.5 171.5 547.5 170.7 456.5 171.0 441.5 172.8 400.5 175.3 373.5 177.9 329.5 179.5 301.5 182.5 288.5 184.8 210.5 188.5ZM770.5 161.0 737.5 160.8 734.1 160.5 730.7 159.5 731.1 158.5 736.5 158.1 770.5 158.0 770.5 161.0ZM770.5 189.3 729.5 188.8 719.5 187.8 712.4 185.5 706.5 184.3 678.5 181.4 615.5 179.9 605.5 179.1 576.5 179.0 573.1 178.5 571.2 174.5 573.5 171.3 578.5 168.4 583.5 166.9 588.5 166.3 613.5 165.7 634.5 165.9 678.5 168.2 734.5 173.7 770.5 174.4 770.5 189.3ZM697.5 214.5 688.5 213.8 679.5 211.3 670.5 210.2 572.5 202.8 524.5 197.2 488.5 195.7 456.5 196.0 449.5 197.0 433.5 197.8 334.5 202.0 291.5 203.1 275.5 204.4 260.5 206.9 252.5 206.6 232.5 208.7 168.5 211.1 133.5 211.1 133.4 201.5 133.5 200.7 166.5 200.7 206.5 199.8 256.5 196.7 282.5 194.2 346.5 189.2 394.5 187.8 460.5 184.7 514.5 185.2 526.5 186.0 547.5 188.7 604.5 191.6 614.5 193.3 630.5 193.4 664.5 195.1 715.5 199.8 743.5 200.9 770.5 200.7 770.5 211.9 742.5 212.4 697.5 214.5ZM770.5 230.3 681.5 228.8 618.5 225.7 610.5 224.6 609.5 222.5 606.5 221.5 583.5 219.8 555.5 216.3 526.5 214.3 454.0 212.5 438.7 210.5 436.2 209.5 436.3 208.5 453.5 205.2 458.5 205.0 519.5 206.1 608.5 209.2 610.7 209.5 611.3 210.5 615.1 211.5 629.5 213.1 646.5 215.7 680.5 219.1 699.5 221.7 716.5 222.4 770.5 221.7 770.5 230.3ZM477.5 222.7 466.5 223.3 400.5 222.8 332.5 220.1 299.5 219.9 289.5 219.0 270.5 219.0 266.6 218.5 262.9 216.5 267.0 214.5 269.5 213.9 289.5 212.2 300.5 212.7 390.5 213.1 448.5 215.3 455.5 217.2 473.5 218.4 478.5 221.5 478.5 222.5 477.5 222.7ZM647.5 249.5 603.5 250.2 524.5 250.1 519.5 249.5 510.5 246.8 503.5 245.3 459.5 242.7 447.5 241.1 369.5 239.9 287.5 237.1 214.5 236.9 204.5 236.3 201.1 235.5 205.9 232.5 215.5 230.9 221.5 229.0 227.6 228.5 227.3 227.5 216.5 227.4 194.5 230.0 173.5 228.2 133.5 227.9 133.4 220.5 133.5 219.4 179.5 218.7 228.5 219.1 241.5 220.5 258.9 224.5 270.5 225.5 289.5 225.8 298.5 226.9 448.5 232.0 451.8 232.5 452.5 234.6 453.3 235.5 454.5 235.7 476.5 235.9 485.5 235.3 507.5 236.0 510.4 236.5 517.5 239.7 522.5 240.3 603.5 240.3 617.5 239.1 770.5 239.1 770.5 239.5 770.5 248.9 647.5 249.5ZM546.5 232.5 514.5 232.2 496.5 230.7 487.5 231.7 486.0 230.5 484.4 226.5 485.9 225.5 488.5 225.4 500.5 225.8 519.5 225.1 544.5 225.4 559.5 226.3 569.5 227.5 575.2 228.5 576.1 229.5 574.5 230.5 565.5 231.8 546.5 232.5ZM770.5 475.5 133.5 475.5 133.5 381.9 168.5 381.7 185.5 380.0 187.8 380.5 179.5 382.5 184.5 383.6 234.5 384.9 292.5 384.1 297.2 383.5 298.6 382.5 298.8 381.5 298.7 380.5 297.3 379.5 291.5 378.9 224.5 378.9 220.6 378.5 220.4 377.5 219.0 376.5 209.5 375.2 174.5 375.5 133.5 374.9 133.5 363.3 174.5 363.3 197.5 361.5 223.5 361.4 227.5 360.7 230.5 359.1 236.0 357.5 236.8 356.5 230.5 355.4 217.5 355.2 199.5 355.7 184.5 357.8 133.5 357.4 133.5 343.8 189.3 343.5 192.6 342.5 193.7 340.5 186.5 339.5 133.5 339.6 133.5 333.3 225.5 332.8 241.3 334.5 307.5 338.6 314.5 337.9 318.3 335.5 318.6 334.5 314.5 333.5 297.4 332.5 295.0 331.5 292.8 329.5 292.7 327.5 293.5 326.5 296.5 325.7 302.5 325.3 335.5 325.7 342.0 328.5 340.7 329.5 331.5 331.5 329.7 332.5 334.2 333.5 355.5 335.4 371.5 335.3 385.5 334.3 402.8 330.5 404.3 329.5 400.6 328.5 370.9 325.5 345.5 324.9 343.8 324.5 345.5 323.5 345.7 322.5 338.5 321.3 297.5 320.6 284.5 319.9 257.5 320.2 244.5 318.1 241.3 318.5 232.3 322.5 233.3 323.5 243.1 324.5 243.3 325.5 211.5 325.1 133.5 325.7 133.5 309.7 163.0 309.5 169.5 307.8 173.5 307.4 227.5 307.4 247.5 306.4 291.5 306.7 305.5 305.9 381.5 303.8 406.5 302.0 418.5 300.0 421.5 298.5 417.5 296.9 409.5 296.0 334.5 293.8 285.5 293.2 281.2 293.5 280.1 294.5 281.1 295.5 272.9 296.5 250.5 296.3 215.5 297.6 191.5 297.7 151.5 296.4 133.5 296.7 133.5 288.5 170.5 288.4 176.3 287.5 178.0 286.5 178.5 285.5 175.5 284.1 162.7 281.5 133.5 280.8 133.5 270.0 168.5 270.4 189.5 272.3 214.5 275.9 236.5 278.1 285.5 279.8 301.5 281.2 366.5 281.0 449.5 278.8 521.5 280.7 532.5 280.1 535.7 279.5 537.0 278.5 534.5 277.2 527.5 276.4 489.4 275.5 491.3 274.5 497.5 273.3 498.9 272.5 500.5 270.1 507.3 268.5 507.8 267.5 494.5 266.5 456.5 266.1 453.3 266.5 452.2 267.5 451.9 269.5 449.5 270.5 404.5 271.4 302.5 270.5 285.5 269.4 228.5 269.1 214.9 268.5 205.3 266.5 201.8 264.5 206.5 263.6 217.5 263.5 288.5 265.0 293.5 264.3 297.5 262.3 301.5 261.1 324.5 259.6 328.3 258.5 327.5 258.0 308.5 259.1 294.5 259.2 255.5 257.5 207.5 256.7 180.5 257.2 160.5 259.9 133.5 260.0 133.5 239.1 161.5 239.3 171.5 241.1 186.5 244.9 192.5 245.7 216.5 246.9 294.5 248.2 297.2 248.5 300.5 249.8 322.5 251.7 325.5 252.8 330.5 256.1 331.5 256.2 333.5 255.5 334.2 254.5 332.6 252.5 332.8 250.5 336.5 249.7 381.5 250.0 447.5 252.7 456.5 253.9 504.5 255.0 559.5 260.3 613.5 262.0 641.5 262.2 645.5 263.1 648.5 266.3 650.5 267.0 674.5 268.7 770.5 269.9 770.5 280.7 633.5 280.3 620.5 280.9 601.5 282.7 553.5 282.7 550.5 283.2 547.8 284.5 547.0 285.5 549.5 287.5 542.5 288.7 462.5 288.7 442.5 287.7 433.5 288.3 429.5 289.5 429.5 290.5 430.5 291.3 434.5 293.0 446.5 295.4 449.5 296.8 455.5 297.1 597.5 295.8 607.5 295.1 614.5 292.5 618.5 292.2 770.5 290.5 770.5 301.5 735.5 302.9 692.5 302.9 671.5 304.3 622.5 304.8 618.5 305.3 611.5 307.1 596.5 307.6 578.5 309.5 558.5 308.9 514.5 309.1 509.7 309.5 508.6 310.5 509.4 311.5 508.6 312.5 505.5 313.5 496.5 314.2 461.5 314.3 440.5 313.3 384.5 313.5 375.7 314.5 373.3 315.5 372.9 316.5 377.5 318.0 383.5 318.5 442.5 319.6 461.5 320.7 552.5 320.8 567.5 322.0 606.5 322.6 629.5 324.3 641.5 328.5 663.9 330.5 770.5 331.4 770.5 340.0 614.5 340.3 607.5 339.8 604.5 338.7 603.0 337.5 600.5 337.0 591.5 337.1 573.9 335.5 555.5 335.1 475.5 335.3 459.5 336.4 455.5 337.5 456.5 338.7 461.5 340.0 474.5 341.0 566.5 341.0 587.5 339.8 589.5 340.3 590.0 341.5 591.7 342.5 598.5 345.5 599.5 346.5 599.6 348.5 600.5 349.1 603.5 349.6 631.5 348.2 770.5 347.9 770.5 356.7 699.5 356.7 660.5 357.8 639.5 357.2 626.6 358.5 623.0 359.5 622.0 360.5 623.4 361.5 627.5 362.7 636.5 364.2 661.5 363.1 699.5 364.2 770.5 364.1 770.5 375.0 735.5 375.5 713.5 374.0 665.5 373.8 651.4 374.5 645.8 375.5 646.2 376.5 649.5 377.3 663.5 378.6 718.5 378.5 740.5 381.1 770.5 381.5 770.5 388.5 713.5 388.5 700.5 389.2 693.1 390.5 693.5 391.5 696.3 392.5 696.9 393.5 689.5 394.4 687.1 395.5 688.4 396.5 691.5 396.7 727.5 396.7 731.5 396.3 733.5 394.4 739.5 393.3 770.5 393.0 770.5 475.5ZM770.5 261.7 670.5 262.1 655.5 262.0 649.9 261.5 654.5 260.1 669.4 258.5 677.3 256.5 681.5 256.0 770.5 255.1 770.5 261.7ZM401.7 261.5 411.5 261.0 413.7 259.5 412.1 258.5 399.5 257.0 367.5 255.9 343.5 256.2 339.5 257.4 338.7 258.5 340.4 259.5 343.5 260.2 364.5 261.9 393.5 262.1 401.7 261.5ZM611.9 274.5 611.8 273.5 607.7 271.5 600.5 270.5 570.5 270.4 563.5 271.0 559.7 272.5 561.1 273.5 568.5 274.1 611.9 274.5ZM442.9 301.5 445.0 300.5 445.1 299.5 443.5 299.0 440.5 299.2 426.8 301.5 430.5 302.1 442.9 301.5ZM770.5 323.0 669.5 322.2 656.5 320.5 612.5 318.1 607.1 316.5 606.1 315.5 606.2 314.5 606.7 311.5 607.5 310.3 610.5 309.1 616.5 308.6 684.5 308.6 729.5 309.8 770.5 310.0 770.5 323.0ZM401.9 350.5 413.5 349.1 415.7 348.5 416.4 347.5 412.5 346.2 404.5 345.1 391.5 344.5 372.5 345.2 364.5 346.2 360.3 347.5 361.0 348.5 363.5 349.2 376.5 350.8 401.9 350.5ZM334.5 353.5 341.5 352.6 344.7 351.5 341.5 350.0 331.5 348.7 283.5 347.7 245.5 347.9 232.5 349.2 204.5 350.1 196.6 351.5 198.6 352.5 205.5 353.1 239.5 352.8 255.5 354.1 320.5 354.2 334.5 353.5ZM564.6 355.5 588.5 354.7 598.3 353.5 600.1 352.5 596.5 350.9 588.5 350.2 521.5 349.7 486.5 350.2 472.7 351.5 469.8 352.5 470.9 353.5 475.5 354.5 489.5 355.7 564.6 355.5ZM408.8 367.5 420.4 366.5 424.4 365.5 411.5 362.9 393.5 362.4 368.5 363.6 320.5 363.8 308.9 364.5 305.2 365.5 306.8 366.5 310.5 367.1 326.5 368.2 389.5 368.2 408.8 367.5ZM609.8 371.5 612.5 370.5 613.2 369.5 612.9 367.5 609.5 366.5 605.5 366.3 459.5 366.1 449.1 366.5 448.8 367.5 452.5 370.9 460.5 372.0 598.5 372.1 609.8 371.5ZM286.7 371.5 292.1 369.5 293.0 368.5 286.5 367.7 270.5 368.2 261.7 369.5 261.1 370.5 264.7 371.5 269.5 371.9 286.7 371.5ZM431.4 375.5 434.5 374.6 435.6 373.5 434.6 372.5 431.5 371.6 424.5 371.0 418.5 371.6 413.0 373.5 414.5 374.7 420.5 375.9 426.5 376.0 431.4 375.5ZM346.6 380.5 396.5 379.5 406.3 378.5 406.8 377.5 400.5 376.1 390.5 375.2 361.5 375.0 314.5 376.2 305.5 377.1 304.0 377.5 302.9 378.5 307.5 379.8 320.5 381.1 331.5 381.3 346.6 380.5ZM555.6 394.5 554.0 393.5 543.2 390.5 559.5 388.0 568.5 387.3 600.5 387.1 633.5 386.2 637.5 385.4 642.6 382.5 642.5 381.5 638.5 380.6 629.5 380.2 557.5 380.9 547.9 381.5 545.4 382.5 543.8 384.5 536.5 385.2 512.5 385.5 491.5 384.7 462.5 384.6 455.5 385.0 447.5 386.4 432.5 385.8 418.5 386.9 404.5 386.1 359.5 386.0 338.5 385.4 325.5 387.0 323.6 387.5 323.4 388.5 342.5 389.8 355.5 392.2 363.5 392.8 405.5 392.2 411.3 391.5 417.5 389.9 427.5 391.9 434.5 392.3 441.5 391.7 450.5 389.1 502.5 389.0 508.4 389.5 511.7 390.5 499.5 392.0 495.9 393.5 497.2 394.5 509.5 395.2 544.5 395.2 555.6 394.5ZM181.7 395.5 195.5 395.2 207.5 393.9 222.5 394.4 229.0 391.5 225.5 390.1 217.5 389.2 188.5 389.7 179.6 390.5 177.7 391.5 179.1 392.5 179.1 393.5 164.5 394.5 166.9 395.5 170.5 395.8 181.7 395.5ZM349.8 396.5 347.5 395.9 342.5 395.7 332.5 395.8 326.7 396.5 330.5 397.3 337.5 397.5 345.5 397.3 349.8 396.5Z"/>
<path fill="#80ff00" fill-rule="evenodd" d="M209.5 161.6 188.5 162.3 133.5 161.7 133.5 154.5 213.2 154.5 213.2 157.5 212.6 159.5 212.0 160.5 209.5 161.6ZM208.5 188.5 133.5 189.0 133.5 175.2 186.5 176.5 220.5 175.8 290.5 171.1 331.5 169.8 368.5 167.9 380.5 166.7 393.3 164.5 397.8 160.5 397.8 159.5 396.3 157.5 396.3 154.5 594.8 154.5 594.8 157.5 593.5 158.9 588.5 161.6 576.8 166.5 569.8 170.5 566.7 173.5 565.5 173.8 562.5 173.7 555.5 171.3 547.5 170.5 456.5 170.9 441.5 172.6 400.5 175.2 372.5 177.8 329.5 179.4 301.5 182.3 288.5 184.7 208.5 188.5ZM770.5 160.8 737.5 160.6 732.0 159.5 732.9 158.5 736.5 158.2 770.5 158.2 770.5 160.8ZM770.5 189.2 730.5 188.7 719.5 187.6 707.5 184.3 678.5 181.3 616.5 179.8 606.5 179.1 576.5 178.9 573.7 178.5 573.0 177.5 572.7 175.5 575.2 171.5 579.6 168.5 583.5 167.3 590.5 166.4 610.5 165.8 630.5 165.9 661.5 167.3 679.5 168.4 733.5 173.7 770.5 174.5 770.5 189.2ZM712.5 213.6 698.5 214.4 692.5 214.1 687.8 213.5 680.5 211.4 671.5 210.2 628.9 206.5 616.5 206.1 608.5 205.1 573.5 202.8 525.5 197.2 488.5 195.5 456.5 195.9 448.5 196.9 432.5 197.7 333.5 201.9 290.5 203.1 275.5 204.2 260.5 206.8 252.5 206.4 232.5 208.5 168.5 211.0 133.5 211.0 133.4 201.5 133.5 200.8 166.5 200.8 206.5 199.9 257.5 196.7 308.5 192.1 347.5 189.3 395.5 187.8 460.5 184.8 513.5 185.3 526.5 186.1 547.5 188.8 604.5 191.7 614.5 193.4 630.5 193.6 664.5 195.2 714.5 199.9 743.5 201.0 770.5 200.8 770.5 211.8 743.5 212.2 712.5 213.6ZM770.5 230.2 682.5 228.8 619.5 225.6 610.6 224.5 610.0 222.5 606.5 221.4 584.5 219.7 555.5 216.2 527.5 214.2 454.5 212.4 440.5 209.9 439.4 209.5 439.4 208.5 448.5 207.0 454.5 205.3 475.5 205.2 607.5 209.3 609.5 209.5 610.7 210.5 614.5 211.6 629.5 213.2 645.5 215.7 680.5 219.2 699.5 221.8 716.5 222.5 770.5 221.8 770.5 230.2ZM477.5 222.6 466.5 223.2 401.5 222.8 333.5 220.0 299.5 219.8 289.5 218.9 270.5 218.9 267.3 218.5 263.8 216.5 267.6 214.5 269.5 214.1 289.5 212.4 387.5 213.1 447.5 215.4 455.5 217.4 473.1 218.5 478.1 221.5 477.5 222.6ZM621.5 249.5 603.5 250.1 524.5 250.0 520.0 249.5 511.5 246.8 503.5 245.2 460.5 242.6 448.5 241.1 338.5 238.9 297.7 237.5 286.5 236.6 213.5 236.3 204.6 235.5 205.3 234.5 209.1 232.5 216.5 231.1 221.5 229.3 230.5 228.5 227.5 227.4 218.5 227.2 193.5 229.9 174.5 228.1 133.5 227.8 133.4 220.5 133.5 219.6 179.5 218.8 228.5 219.2 240.7 220.5 245.5 222.0 257.8 224.5 269.5 225.6 289.5 225.9 298.5 227.0 448.5 232.1 451.2 232.5 452.8 235.5 454.5 235.8 485.5 235.6 507.5 236.1 510.5 236.8 517.5 239.9 522.5 240.5 603.5 240.5 617.5 239.2 770.5 239.5 770.5 248.8 621.5 249.5ZM541.5 232.5 513.5 232.1 496.5 230.5 490.5 231.0 488.8 230.5 486.4 226.5 490.5 225.7 501.5 225.9 519.5 225.2 545.5 225.6 558.5 226.3 568.2 227.5 574.3 228.5 575.4 229.5 573.4 230.5 564.5 231.8 541.5 232.5ZM163.5 259.6 133.5 259.9 133.5 253.0 139.0 252.5 133.5 251.9 133.5 239.2 161.5 239.4 171.5 241.3 185.5 244.8 192.5 245.8 250.5 247.8 293.5 248.2 295.9 248.5 299.8 250.5 321.5 252.2 325.5 254.1 327.9 256.5 325.5 257.3 318.5 258.0 292.5 258.9 256.5 257.4 220.5 256.6 184.5 256.9 178.5 257.3 163.5 259.6ZM229.5 296.5 188.5 297.3 151.5 296.2 133.5 296.4 133.5 288.9 186.5 289.3 190.0 288.5 189.9 287.5 191.5 286.5 206.5 284.4 208.9 283.5 204.5 282.4 176.5 282.5 160.5 280.8 133.5 280.3 133.5 270.2 166.5 270.5 188.3 272.5 212.5 276.0 234.5 278.2 249.5 279.2 285.5 280.1 301.5 281.4 368.5 281.3 446.5 279.2 460.5 280.0 524.5 281.1 537.6 280.5 540.5 279.6 541.0 278.5 539.5 277.1 535.5 276.3 510.5 274.9 503.5 273.8 502.5 272.8 502.2 270.5 505.1 269.5 512.3 268.5 513.9 267.5 502.5 266.5 455.5 265.8 450.7 266.5 450.2 267.5 450.7 269.5 446.9 270.5 391.5 271.1 303.5 270.3 286.5 269.1 222.5 268.4 213.0 267.5 207.1 265.5 206.7 264.5 218.5 264.1 289.5 265.4 294.8 264.5 300.5 262.2 325.5 260.5 329.5 259.7 335.5 257.5 338.2 259.5 341.5 260.4 366.5 262.3 395.5 262.3 405.5 261.7 413.5 262.9 415.5 262.4 416.5 259.5 414.6 258.5 407.3 257.5 389.5 256.3 360.5 255.7 343.5 256.0 337.5 256.7 336.7 256.5 336.8 254.5 334.5 252.5 334.7 250.5 335.5 250.2 344.5 249.5 382.5 250.1 447.5 252.9 456.5 254.0 504.5 255.2 560.5 260.4 613.5 262.1 640.5 262.3 644.5 263.0 648.0 266.5 650.5 267.2 674.5 268.9 770.5 270.0 770.5 270.5 770.5 280.5 652.5 280.5 632.5 279.9 605.5 282.2 592.5 282.5 571.5 282.4 549.5 281.3 547.2 281.5 546.1 282.5 544.5 285.5 545.7 287.5 541.5 288.2 464.5 288.4 445.5 287.5 436.5 287.6 424.5 289.0 407.7 289.5 405.5 290.5 404.3 292.5 406.5 293.6 412.9 294.5 407.5 295.0 331.5 293.4 299.5 293.3 283.5 292.0 275.5 293.3 274.4 294.5 274.6 295.5 272.5 295.8 229.5 296.5ZM769.5 261.5 672.5 262.0 651.0 261.5 655.5 260.1 671.4 258.5 678.1 256.5 681.5 256.1 770.5 255.2 770.5 261.5 769.5 261.5ZM620.4 275.5 619.1 274.5 609.8 271.5 604.5 270.4 572.5 269.5 552.1 269.5 555.9 270.5 556.2 271.5 555.4 272.5 555.5 273.5 558.8 274.5 605.5 275.0 617.5 276.0 620.4 275.5ZM203.5 324.5 133.5 325.0 133.5 310.5 160.5 310.5 178.5 309.6 231.5 309.1 239.8 308.5 244.5 307.4 253.5 307.0 292.5 307.2 297.5 307.7 304.5 309.7 322.5 309.8 328.2 309.5 341.1 306.5 350.5 305.5 423.5 303.7 442.5 302.7 447.5 301.5 448.8 300.5 449.5 298.5 450.5 298.0 454.5 297.4 598.5 296.0 608.5 295.3 614.5 293.0 619.5 292.4 770.5 290.8 770.5 297.4 760.5 298.0 758.0 298.5 753.6 300.5 745.5 301.8 731.5 302.4 687.5 302.5 670.5 303.4 620.5 304.0 616.5 304.4 612.5 305.9 607.5 306.6 591.5 307.2 576.5 308.7 511.5 308.6 504.2 309.5 506.3 311.5 505.5 312.5 501.4 313.5 496.5 313.8 461.5 313.8 441.5 312.9 381.5 313.2 372.1 314.5 365.4 316.5 364.5 317.6 360.5 318.8 344.5 320.4 300.5 320.1 284.5 318.7 259.5 319.1 243.5 316.6 239.1 317.5 231.5 321.1 222.5 323.7 203.5 324.5ZM435.5 298.6 426.5 299.4 422.5 297.2 415.7 295.5 418.5 294.6 432.5 294.0 444.3 295.5 444.8 296.5 435.5 298.6ZM770.5 322.4 707.5 322.0 688.5 320.2 616.5 317.7 611.5 316.6 611.0 315.5 613.1 313.5 613.6 311.5 615.2 310.5 618.5 310.2 708.5 310.4 710.3 310.5 711.2 312.5 717.8 313.5 770.5 313.8 770.5 322.4ZM181.5 356.5 133.5 356.5 133.5 344.4 193.5 344.5 197.4 343.5 196.9 341.5 197.7 340.5 197.2 339.5 187.5 338.7 133.5 338.9 133.5 334.3 175.5 334.5 198.5 333.4 222.5 333.4 239.5 335.3 286.5 337.6 300.5 339.1 309.5 339.2 318.4 338.5 319.9 336.5 322.5 335.0 326.5 334.0 352.5 336.0 382.5 336.2 405.3 332.5 440.5 332.1 444.5 331.6 445.5 330.5 444.9 329.5 439.5 328.7 410.5 328.0 393.5 326.9 375.5 324.7 370.7 323.5 371.5 322.4 377.5 320.8 384.5 319.7 394.5 319.3 443.5 319.9 462.5 321.3 550.5 321.8 568.5 322.7 604.5 323.1 614.0 324.5 615.4 325.5 615.8 328.5 616.5 329.5 621.5 330.1 667.5 331.0 770.5 331.6 770.5 339.5 617.5 339.8 610.5 339.1 608.4 338.5 606.1 336.5 601.5 335.6 552.5 334.6 469.5 334.9 453.5 336.0 450.1 337.5 450.0 338.5 453.5 341.5 459.5 342.0 581.5 342.0 590.5 343.8 594.5 345.5 595.5 346.5 595.2 347.5 593.4 348.5 587.5 349.3 491.5 349.5 459.5 350.9 450.5 353.0 442.5 353.3 432.5 352.0 428.8 350.5 428.6 349.5 431.5 348.1 435.5 347.2 447.5 345.7 448.3 344.5 447.1 343.5 441.5 343.0 397.5 342.6 371.5 344.1 347.5 343.5 331.5 346.8 324.5 347.3 283.5 347.0 202.5 347.4 198.5 348.1 188.4 351.5 187.3 352.5 188.2 354.5 187.1 355.5 181.5 356.5ZM325.5 331.6 318.5 332.3 301.5 332.0 296.7 330.5 295.7 328.5 296.1 327.5 298.5 326.5 313.5 326.0 328.1 326.5 336.0 328.5 334.8 329.5 325.5 331.6ZM671.5 356.5 625.5 356.3 613.5 354.7 611.5 354.0 610.2 352.5 612.0 351.5 619.5 349.9 632.5 348.9 770.5 348.5 770.5 356.2 671.5 356.5ZM296.5 377.6 290.5 378.2 269.5 378.5 248.5 378.0 240.0 376.5 239.4 375.5 243.0 373.5 240.5 373.4 222.5 374.2 205.5 373.8 173.5 374.5 133.5 374.3 133.5 363.8 173.5 363.7 194.5 362.7 228.5 362.6 232.5 361.8 235.0 359.5 243.5 356.8 248.5 355.8 255.5 355.4 364.5 355.5 382.5 353.7 401.5 353.6 409.5 353.9 418.5 355.2 423.6 356.5 424.1 357.5 420.5 358.8 411.5 360.3 389.5 361.0 371.5 362.8 303.3 363.5 290.5 365.9 265.5 367.0 255.5 369.4 254.6 370.5 259.4 372.5 272.5 372.9 288.2 372.5 297.5 370.2 301.5 369.8 340.5 369.8 349.3 370.5 352.3 371.5 352.8 372.5 352.8 373.5 350.0 374.5 305.5 375.9 300.5 376.4 296.5 377.6ZM604.5 365.5 454.5 365.6 436.5 364.8 430.5 363.5 428.6 362.5 428.9 361.5 433.5 359.9 458.5 356.1 493.5 356.5 560.5 356.2 581.5 355.9 603.5 354.7 610.5 354.9 612.5 355.8 613.3 357.5 613.3 363.5 612.6 364.5 604.5 365.5ZM770.5 374.2 735.5 374.2 708.5 373.5 646.5 373.6 640.5 373.0 631.5 371.0 627.3 369.5 627.0 368.5 631.5 366.9 640.3 365.5 660.5 364.4 770.5 364.5 770.5 374.2ZM446.5 385.6 432.5 385.3 417.5 385.9 357.5 385.4 341.5 384.2 337.6 383.5 336.6 382.5 341.5 381.5 357.5 380.4 442.5 379.0 447.7 378.5 448.6 377.5 448.5 376.5 447.5 375.5 442.5 373.9 437.5 371.4 431.5 370.2 420.5 370.0 407.5 371.9 403.8 371.5 403.1 370.5 407.0 369.5 415.4 368.5 423.5 368.1 443.5 368.3 445.5 369.0 447.5 371.0 449.5 372.0 456.5 373.0 523.5 373.1 538.5 373.7 555.5 373.0 618.5 373.0 630.5 374.2 634.1 375.5 634.4 376.5 632.4 377.5 628.5 378.3 607.5 380.2 547.5 380.8 544.5 381.4 539.5 383.7 532.5 384.4 511.5 384.8 461.5 384.2 446.5 385.6ZM526.5 421.5 519.5 422.3 513.9 421.5 511.9 420.5 513.4 416.5 520.4 411.5 521.0 410.5 516.5 407.5 513.5 406.4 509.5 406.5 506.5 407.5 504.5 412.5 500.5 414.7 495.5 416.1 488.5 415.9 477.5 414.6 455.2 408.5 452.4 407.5 451.3 405.5 449.3 404.5 440.5 401.5 407.5 398.5 365.5 396.4 361.5 395.8 359.2 394.5 367.5 393.4 414.5 393.0 449.5 393.6 476.5 395.9 552.5 396.1 568.3 395.5 572.0 394.5 561.5 393.7 552.4 391.5 552.8 390.5 559.5 389.3 570.5 388.3 601.5 388.2 616.5 387.3 640.5 386.8 643.3 386.5 642.5 385.7 642.4 384.5 644.1 383.5 649.5 381.4 654.5 380.7 717.5 380.6 745.5 381.8 770.5 382.0 770.5 387.7 668.5 388.3 667.0 388.5 672.8 390.5 673.3 391.5 672.1 392.5 672.5 392.8 681.3 394.5 679.5 395.6 674.5 396.1 617.4 396.5 613.2 397.5 610.5 400.0 607.5 400.9 578.5 402.4 559.5 404.2 556.0 405.5 550.7 410.5 542.9 416.5 526.5 421.5ZM343.5 394.6 298.5 395.2 238.3 393.5 233.5 392.7 233.3 391.5 229.5 389.8 220.5 388.7 184.6 389.5 168.5 390.9 133.5 391.2 133.5 382.7 169.5 382.7 182.5 384.0 216.5 384.7 232.5 385.8 254.5 385.0 291.5 385.1 295.4 385.5 297.1 386.5 297.5 387.5 300.1 388.5 339.5 390.0 349.5 391.4 353.5 392.5 353.6 393.5 352.5 393.8 343.5 394.6ZM214.5 395.8 206.5 396.4 201.7 395.5 204.7 394.5 209.5 394.3 212.9 394.5 215.1 395.5 214.5 395.8ZM770.5 396.1 745.5 396.1 739.7 395.5 740.3 394.5 743.5 394.3 770.5 394.2 770.5 396.1ZM205.5 457.6 133.5 455.2 133.5 436.8 141.3 436.5 140.7 435.5 139.5 435.2 133.5 434.5 133.5 408.7 147.5 407.8 156.5 405.8 162.5 403.9 170.5 399.5 178.2 397.5 191.5 396.6 196.2 397.5 188.0 404.5 187.6 405.5 195.5 410.5 193.5 411.5 179.3 413.5 167.5 419.3 164.6 421.5 157.4 430.5 158.4 432.5 162.5 437.5 179.5 442.7 205.5 448.2 215.2 454.5 214.6 455.5 213.5 455.9 205.5 457.6ZM240.5 409.5 228.5 409.9 227.1 409.5 226.6 407.5 226.9 406.5 228.6 405.5 241.5 401.0 269.5 398.2 277.5 397.9 279.7 398.5 274.3 400.5 240.5 409.5ZM670.5 403.5 668.3 403.5 665.9 402.5 670.5 402.5 670.9 403.5 670.5 403.5ZM213.5 427.8 212.5 428.4 210.5 428.1 206.1 425.5 200.8 418.5 200.6 415.5 202.5 413.5 209.5 409.1 216.5 407.4 219.7 407.5 220.2 408.5 213.1 420.5 213.8 426.5 213.5 427.8ZM335.5 475.5 306.0 475.5 306.9 461.5 306.5 459.5 301.0 450.5 294.6 446.5 293.6 444.5 286.5 439.5 281.5 432.9 279.7 429.5 280.0 428.5 281.1 427.5 285.1 424.5 287.5 423.4 293.5 422.5 309.5 422.5 312.9 421.5 312.5 420.5 305.5 419.7 295.5 420.0 294.3 419.5 294.0 417.5 293.1 416.5 290.5 416.2 280.5 416.4 255.5 418.4 252.5 418.3 250.1 417.5 258.5 413.3 281.5 410.2 290.5 409.8 300.5 410.5 327.5 410.2 378.5 411.0 388.5 410.6 397.5 408.4 401.5 408.2 408.8 409.5 419.2 414.5 430.2 423.5 432.6 427.5 433.0 428.5 432.6 429.5 428.5 429.4 419.1 421.5 408.4 415.5 402.5 414.2 393.5 413.7 374.2 419.5 391.5 420.4 405.5 423.2 408.5 424.5 412.4 428.5 412.4 429.5 407.9 435.5 400.5 439.5 395.5 440.7 381.5 441.9 365.5 439.7 346.5 436.2 332.5 437.3 328.3 438.5 322.3 444.5 321.3 453.5 323.8 463.5 335.1 470.5 336.0 472.5 336.0 475.5 335.5 475.5ZM770.5 475.5 529.1 475.5 529.1 472.5 531.9 464.5 531.7 463.5 526.5 459.2 522.5 458.4 518.5 459.4 515.4 464.5 511.5 465.7 506.5 465.6 503.5 464.8 500.4 462.5 499.4 461.5 499.2 460.5 500.9 453.5 512.8 441.5 529.6 434.5 548.1 425.5 571.5 420.0 576.5 419.2 602.5 417.2 616.5 417.1 624.5 418.0 636.5 421.8 652.1 424.5 653.2 425.5 649.5 426.4 613.5 426.9 610.6 427.5 609.3 429.5 608.5 429.7 586.6 431.5 588.7 432.5 595.5 434.0 599.5 437.6 600.5 439.5 592.1 444.5 585.9 450.5 585.3 451.5 585.9 452.5 589.7 455.5 607.5 457.0 613.5 458.1 633.5 457.9 638.5 457.0 653.4 451.5 669.4 440.5 673.3 438.5 688.5 432.4 702.5 428.2 707.5 427.1 721.5 425.7 739.5 425.9 744.2 425.5 725.8 418.5 724.1 417.5 724.5 416.5 725.5 416.1 742.5 411.2 763.5 408.3 770.5 408.1 770.5 449.9 767.5 449.9 763.9 446.5 751.5 441.1 739.5 439.3 730.5 439.0 719.5 440.4 717.4 441.5 715.2 444.5 721.2 450.5 724.2 452.5 741.5 455.5 755.3 461.5 756.7 462.5 758.6 468.5 762.5 469.9 770.5 470.6 770.5 475.5ZM665.5 415.0 663.5 415.3 661.5 414.8 659.7 412.5 661.5 412.0 663.9 412.5 666.5 414.5 665.5 415.0ZM458.5 429.6 453.5 429.8 452.5 429.5 452.0 428.5 452.1 418.5 452.6 417.5 453.5 417.1 456.5 417.4 458.7 418.5 462.0 424.5 461.6 426.5 458.5 429.6ZM668.5 425.6 663.5 425.9 662.4 425.5 661.8 424.5 662.3 423.5 665.5 422.6 670.8 423.5 670.6 424.5 668.5 425.6ZM418.5 444.6 414.7 444.5 415.3 443.5 419.5 441.6 423.7 441.5 423.7 442.5 418.5 444.6ZM231.5 457.5 229.5 457.6 226.5 454.5 221.8 446.5 221.3 444.5 222.0 443.5 224.5 443.7 226.3 444.5 227.5 445.8 232.7 454.5 232.5 456.3 231.5 457.5Z"/>
<path fill="#ffff00" fill-rule="evenodd" d="M208.5 161.5 188.5 162.1 133.5 161.5 133.5 154.5 212.2 154.5 211.6 159.5 211.1 160.5 208.5 161.5ZM205.5 188.6 133.5 188.9 133.5 175.3 186.5 176.6 221.5 175.9 290.5 171.2 333.5 169.9 369.5 168.0 381.5 166.7 394.0 164.5 398.4 160.5 398.6 159.5 397.4 157.5 397.4 154.5 594.3 154.5 594.3 157.5 592.5 159.1 576.1 166.5 568.9 170.5 566.5 172.8 564.5 173.6 555.5 171.2 547.5 170.4 456.5 170.8 440.5 172.6 400.5 175.1 371.5 177.8 329.5 179.2 300.5 182.3 287.5 184.7 205.5 188.6ZM770.5 160.7 737.5 160.5 733.2 159.5 734.8 158.5 737.5 158.4 770.5 158.3 770.5 160.7ZM770.5 189.1 732.5 188.8 719.6 187.5 712.5 185.2 707.5 184.2 679.5 181.2 617.5 179.8 606.5 179.0 577.5 178.9 574.3 178.5 573.4 176.5 575.7 172.5 580.6 168.5 588.5 166.7 607.5 166.0 628.5 165.9 677.5 168.3 733.5 173.8 770.5 174.6 770.5 189.1ZM711.5 213.5 698.5 214.2 692.5 214.0 688.4 213.5 680.5 211.2 671.5 210.1 631.5 206.5 573.5 202.7 525.5 197.1 488.5 195.4 456.5 195.8 448.5 196.8 432.5 197.6 333.5 201.8 290.5 203.0 275.5 204.1 260.5 206.6 252.5 206.2 230.7 208.5 168.5 210.9 133.5 210.9 133.5 201.5 133.5 200.9 167.5 200.9 207.5 199.9 257.5 196.8 308.5 192.3 347.5 189.4 396.5 187.9 460.5 184.9 512.5 185.3 526.5 186.2 546.5 188.8 605.5 191.9 614.5 193.6 643.5 194.1 663.5 195.3 714.5 200.0 742.5 201.0 770.5 200.9 770.5 211.7 742.5 212.2 711.5 213.5ZM770.5 230.1 682.5 228.6 620.5 225.6 611.5 224.6 610.5 222.5 606.5 221.2 584.5 219.6 555.5 216.1 528.5 214.1 455.5 212.3 443.1 209.5 443.5 208.5 450.5 207.2 454.4 205.5 459.5 205.3 518.5 206.3 606.5 209.3 608.5 209.5 610.5 210.7 614.5 211.7 628.5 213.2 645.5 215.8 679.5 219.2 698.5 221.8 716.5 222.6 770.5 221.9 770.5 230.1ZM476.5 222.6 465.5 223.1 401.5 222.6 327.5 219.8 299.5 219.7 289.5 218.8 271.5 218.8 268.0 218.5 264.9 216.5 269.5 214.2 289.5 212.5 386.5 213.1 447.5 215.5 455.5 217.5 472.5 218.5 477.6 221.5 477.3 222.5 476.5 222.6ZM612.5 249.5 603.5 250.0 524.5 249.9 520.6 249.5 512.5 246.8 503.5 245.0 461.5 242.6 448.5 241.0 339.5 238.8 301.5 237.5 288.5 236.4 215.5 236.2 208.7 235.5 208.3 234.5 212.4 232.5 218.5 231.1 221.5 229.5 232.5 228.5 227.5 227.3 218.5 227.0 193.5 229.8 175.5 228.0 133.5 227.7 133.4 220.5 133.5 219.7 178.5 218.9 227.5 219.3 239.4 220.5 244.5 222.1 256.3 224.5 269.5 225.7 289.5 226.0 298.5 227.1 448.5 232.2 450.7 232.5 452.2 235.5 454.5 235.9 485.5 235.7 506.5 236.2 509.5 236.6 517.5 240.1 521.5 240.6 603.5 240.6 617.5 239.3 770.5 239.5 770.5 248.7 612.5 249.5ZM565.5 231.6 540.5 232.4 511.5 231.8 491.5 229.7 489.4 226.5 519.5 225.3 545.5 225.7 564.5 227.2 573.3 228.5 574.5 229.5 572.1 230.5 565.5 231.6ZM162.5 259.5 133.5 259.8 133.5 253.6 138.7 253.5 141.8 252.5 136.5 251.0 133.5 251.0 133.5 239.3 160.9 239.5 191.5 245.9 249.5 247.9 292.5 248.2 294.8 248.5 297.5 250.5 320.5 252.4 323.5 253.6 326.0 255.5 326.4 256.5 323.5 257.2 315.5 257.8 291.5 258.7 255.5 257.2 205.5 256.4 180.5 257.0 162.5 259.5ZM609.5 281.6 597.5 282.3 570.5 282.0 550.5 280.0 548.0 279.5 546.3 278.5 548.5 277.1 552.5 276.2 565.5 275.1 603.5 275.2 619.5 277.0 624.5 276.5 625.6 275.5 624.4 274.5 621.4 273.5 603.5 270.1 531.5 267.9 499.5 266.1 452.7 265.5 447.4 266.5 449.2 269.5 445.5 270.2 393.5 270.9 301.5 270.0 287.5 268.8 222.7 267.5 214.5 266.5 212.3 265.5 218.5 265.0 289.5 265.9 293.5 265.4 304.5 262.6 327.5 261.3 334.5 260.1 341.5 261.2 360.5 262.3 403.5 262.5 414.5 264.0 418.9 263.5 419.7 262.5 419.7 259.5 417.3 258.5 409.2 257.5 388.5 256.1 341.5 255.6 339.5 255.3 336.4 253.5 335.6 252.5 335.9 250.5 336.5 250.3 345.5 249.7 382.5 250.2 446.5 253.0 455.5 254.0 503.5 255.2 560.5 260.6 613.5 262.3 640.5 262.5 644.5 263.4 647.3 266.5 650.5 267.4 673.5 269.0 770.5 270.1 770.5 280.3 652.5 280.3 631.5 279.5 622.5 280.0 609.5 281.6ZM724.5 261.5 672.5 261.9 652.2 261.5 656.5 260.1 673.2 258.5 678.9 256.5 681.5 256.2 770.5 255.3 770.5 261.3 724.5 261.5ZM537.5 274.5 518.4 274.5 510.3 273.5 507.3 272.5 506.2 271.5 506.5 270.5 512.5 269.7 527.5 269.2 545.2 270.5 550.0 271.5 549.9 272.5 547.5 273.6 537.5 274.5ZM249.5 295.5 227.5 295.9 220.5 295.3 218.5 294.3 217.2 289.5 214.1 286.5 214.0 283.5 213.1 282.5 209.5 281.7 186.5 280.8 133.5 279.9 133.5 270.3 165.5 270.7 176.5 272.4 191.5 273.4 217.5 276.9 238.5 278.9 285.5 280.4 299.5 281.6 370.5 281.9 445.5 279.6 461.5 280.7 536.5 281.6 540.5 282.0 542.9 283.5 542.6 286.5 541.6 287.5 535.5 288.0 462.5 288.0 442.5 287.1 408.5 288.0 402.5 289.5 401.1 291.5 398.5 293.2 394.5 294.1 299.5 292.9 280.5 290.6 276.5 290.8 272.5 292.0 267.5 294.9 249.5 295.5ZM193.5 296.6 133.5 296.1 133.5 289.2 188.5 290.2 196.5 291.6 198.5 292.8 199.8 294.5 198.5 295.8 193.5 296.6ZM201.5 323.5 177.5 324.2 133.5 324.2 133.5 311.0 231.5 310.0 239.5 309.5 252.5 307.8 284.5 307.5 293.5 308.0 303.5 310.7 323.5 310.8 336.8 309.5 352.4 306.5 391.5 304.9 442.5 303.7 448.5 302.3 451.1 300.5 452.5 298.5 458.5 297.7 602.5 296.2 608.5 295.7 615.5 293.3 621.5 292.7 770.5 291.3 770.5 295.8 762.5 296.0 755.5 296.9 751.5 298.0 746.4 300.5 736.5 301.7 620.5 303.4 615.5 304.0 607.5 306.2 593.5 306.6 576.5 308.0 501.5 308.4 498.8 308.5 496.4 309.5 501.7 311.5 500.6 312.5 491.5 313.3 464.5 313.3 444.5 312.5 380.5 312.8 373.5 313.3 361.5 315.5 359.6 316.5 359.1 317.5 355.5 318.3 340.5 319.7 300.5 319.6 285.5 317.7 259.5 317.9 249.5 316.3 243.5 315.9 238.5 316.6 229.5 320.7 224.5 322.1 218.5 322.9 201.5 323.5ZM432.5 297.6 428.5 297.5 425.6 296.5 428.5 295.6 434.5 295.4 437.9 295.5 438.5 296.5 432.5 297.6ZM770.5 322.0 710.5 321.5 684.5 318.7 640.5 317.7 617.0 316.5 617.5 315.5 623.5 315.0 679.5 315.0 693.5 315.6 709.5 314.3 770.5 314.6 770.5 322.0ZM770.5 339.1 620.5 339.3 611.7 338.5 607.1 335.5 600.5 334.5 551.5 333.9 456.5 334.3 451.5 333.4 450.5 332.4 449.1 329.5 447.6 328.5 445.5 328.1 398.5 326.6 380.5 324.6 375.6 323.5 376.4 322.5 383.5 320.9 390.5 320.0 398.5 319.8 444.5 320.3 463.5 322.1 602.5 323.7 609.5 324.6 611.1 325.5 611.9 329.5 613.4 330.5 617.5 331.0 770.5 332.0 770.5 339.1ZM322.5 330.5 303.5 330.7 300.5 329.8 300.0 328.5 302.5 327.3 313.5 326.9 324.5 327.4 329.5 328.5 328.1 329.5 322.5 330.5ZM321.5 346.5 216.5 346.1 207.5 345.1 202.5 343.9 200.2 342.5 199.9 341.5 202.9 339.5 202.0 338.5 200.5 338.2 189.5 337.7 133.5 337.9 133.5 335.5 177.5 335.7 199.5 334.4 221.5 334.4 241.5 336.9 284.5 337.9 301.5 339.8 324.5 340.3 334.5 341.2 339.9 342.5 339.9 343.5 334.5 345.0 328.5 346.1 321.5 346.5ZM386.5 342.5 373.5 343.3 353.5 342.8 340.5 341.1 334.5 339.2 324.1 337.5 324.4 336.5 327.0 335.5 334.5 335.2 348.5 336.6 384.5 337.6 391.5 338.8 394.2 340.5 392.3 341.5 386.5 342.5ZM433.5 337.5 411.5 337.7 400.6 336.5 405.5 335.4 420.5 335.1 435.5 335.4 440.7 336.5 433.5 337.5ZM446.5 351.5 440.1 351.5 436.3 350.5 436.1 349.5 439.6 348.5 451.5 347.2 453.2 346.5 455.0 344.5 457.5 343.7 476.5 342.8 578.5 342.7 587.5 343.9 591.6 345.5 592.6 346.5 591.8 347.5 590.5 348.0 583.5 348.8 459.5 349.4 452.5 349.9 446.5 351.5ZM173.5 354.5 133.5 354.6 133.5 345.3 183.5 345.4 189.5 345.6 193.4 346.5 193.6 347.5 192.7 348.5 184.4 351.5 181.5 353.6 178.5 354.3 173.5 354.5ZM770.5 355.8 660.5 356.1 628.5 355.1 619.4 353.5 617.9 352.5 620.3 351.5 627.5 350.2 644.5 349.2 770.5 349.0 770.5 355.8ZM184.5 373.5 133.5 373.7 133.5 364.2 173.5 364.1 192.5 363.5 207.5 364.2 235.5 364.2 239.1 363.5 238.1 360.5 239.4 359.5 246.5 357.2 255.5 356.3 368.5 356.5 384.5 355.2 398.5 355.1 408.6 355.5 414.7 356.5 415.7 357.5 407.5 359.0 388.5 359.7 377.5 361.6 370.5 362.3 302.5 362.7 287.5 364.7 262.5 365.3 259.9 365.5 255.5 367.5 250.5 369.0 246.6 371.5 184.5 373.5ZM602.5 364.5 551.5 365.2 459.5 365.1 441.5 363.9 438.5 363.5 435.9 362.5 436.6 361.5 439.5 360.8 455.5 357.8 460.5 357.4 577.5 356.9 599.5 356.1 604.8 356.5 606.4 357.5 606.3 363.5 602.5 364.5ZM770.5 373.3 651.5 372.4 644.5 371.8 638.4 370.5 635.2 369.5 634.9 368.5 643.5 366.4 666.5 365.3 770.5 365.0 770.5 373.3ZM290.5 377.5 256.5 377.8 246.5 376.8 245.3 376.5 244.7 375.5 255.5 373.7 289.5 373.1 298.5 371.2 303.5 370.8 338.5 371.3 342.4 371.5 345.3 372.5 345.1 373.5 339.5 374.1 300.5 375.3 290.5 377.5ZM451.5 384.5 444.5 385.1 366.5 385.2 350.7 384.5 343.4 383.5 341.9 382.5 347.1 381.5 360.5 380.8 447.5 379.8 454.8 378.5 455.4 377.5 455.5 375.4 457.9 374.5 461.5 374.3 521.5 374.3 536.5 374.8 554.5 373.7 607.5 373.7 623.5 374.3 629.1 375.5 629.6 376.5 624.5 377.8 605.5 379.8 542.5 380.2 541.2 380.5 541.5 381.5 539.5 382.7 529.5 384.0 462.5 383.9 451.5 384.5ZM770.5 387.1 687.5 387.2 656.5 386.4 649.7 385.5 647.4 384.5 649.1 383.5 653.5 382.5 660.5 382.1 720.5 381.8 770.5 382.4 770.5 387.1ZM177.5 389.5 133.5 390.3 133.5 383.8 166.5 383.8 211.5 385.0 220.4 385.5 223.4 386.5 221.5 387.5 213.5 388.3 177.5 389.5ZM346.5 393.6 331.5 394.3 279.5 394.1 245.5 392.5 240.7 391.5 236.0 389.5 236.3 388.5 239.5 387.5 247.5 386.3 284.5 385.9 289.8 386.5 292.2 388.5 296.5 389.1 337.5 390.2 347.4 391.5 350.2 392.5 346.5 393.6ZM595.5 399.5 572.5 399.9 560.5 398.8 559.3 398.5 560.7 397.5 585.5 395.9 587.6 395.5 588.3 394.5 584.5 393.7 564.5 392.7 559.0 391.5 560.5 390.5 569.5 389.4 599.5 389.3 616.5 388.0 650.5 387.7 655.5 388.0 662.5 389.3 667.6 390.5 668.3 391.5 659.5 394.6 617.5 395.4 609.5 396.5 606.2 398.5 604.5 398.9 595.5 399.5ZM470.5 404.7 464.5 405.1 455.5 404.7 444.5 400.8 429.5 398.9 416.5 397.8 381.5 396.6 367.5 395.5 365.2 394.5 387.5 393.6 446.5 394.9 450.5 395.5 455.5 397.2 473.8 398.5 475.2 399.5 476.0 401.5 475.8 402.5 470.5 404.7ZM538.5 414.6 535.5 415.5 533.5 414.5 533.5 409.5 537.5 405.2 539.5 404.5 542.5 404.6 543.5 405.5 542.8 410.5 538.5 414.6Z"/>
<path fill="#ffa000" fill-rule="evenodd" d="M206.5 161.5 186.5 162.0 146.5 161.0 142.9 160.5 144.4 159.5 143.2 158.5 133.5 158.3 133.5 154.5 211.3 154.5 211.3 157.5 210.2 160.5 206.5 161.5ZM203.5 188.5 133.5 188.8 133.5 175.4 185.5 176.8 221.5 176.0 291.5 171.2 362.5 168.7 381.5 166.9 394.7 164.5 399.0 160.5 399.3 159.5 398.2 157.5 398.2 154.5 593.8 154.5 593.8 157.5 592.5 158.7 587.3 161.5 575.5 166.5 568.1 170.5 566.0 172.5 564.5 173.2 562.5 173.1 555.5 171.0 547.5 170.2 455.5 170.7 439.5 172.6 399.5 175.1 371.5 177.7 328.5 179.2 300.5 182.2 287.5 184.6 203.5 188.5ZM763.5 160.5 747.5 160.6 734.6 159.5 737.5 158.7 748.5 158.2 770.5 158.5 770.5 160.5 763.5 160.5ZM770.5 189.0 731.5 188.6 720.3 187.5 708.5 184.2 679.5 181.1 619.5 179.7 606.5 178.9 578.5 178.8 574.9 178.5 574.0 177.5 574.5 175.9 576.9 172.5 581.5 168.5 588.5 166.9 605.5 166.1 628.5 166.1 676.5 168.4 732.5 173.9 753.5 174.7 770.5 174.8 770.5 189.0ZM709.5 213.6 698.5 214.1 691.5 213.8 680.5 211.1 673.5 210.2 632.5 206.4 573.5 202.6 525.5 197.0 488.5 195.2 456.5 195.6 448.5 196.7 431.5 197.5 386.5 199.1 332.5 201.8 289.5 202.9 274.5 204.1 260.5 206.5 252.5 206.0 228.2 208.5 167.5 210.8 133.5 210.8 133.5 201.5 133.5 201.0 167.5 201.0 207.5 200.0 258.5 196.9 309.5 192.3 348.4 189.5 379.5 188.7 460.5 185.0 511.5 185.4 525.5 186.2 545.5 188.9 605.5 192.0 614.5 193.7 642.5 194.2 663.5 195.4 713.5 200.0 742.5 201.1 770.5 201.0 770.5 211.6 735.5 212.3 709.5 213.6ZM770.5 230.0 682.5 228.5 622.5 225.6 611.7 224.5 611.0 222.5 607.5 221.2 584.5 219.5 556.5 216.1 528.5 214.0 456.5 212.1 451.6 211.5 451.0 210.5 452.1 208.5 454.4 206.5 456.7 205.5 459.5 205.4 511.5 206.2 606.5 209.5 614.5 211.8 628.5 213.3 644.5 215.8 679.5 219.3 698.5 221.9 716.5 222.8 770.5 222.0 770.5 230.0ZM476.5 222.5 465.5 223.0 401.5 222.5 327.5 219.7 299.5 219.6 289.5 218.6 271.5 218.7 268.8 218.5 267.3 217.5 266.9 216.5 267.2 215.5 269.5 214.4 289.5 212.7 385.5 213.2 446.3 215.5 455.5 217.7 471.9 218.5 477.1 221.5 476.5 222.5ZM610.5 249.6 525.5 249.8 521.3 249.5 514.5 247.0 504.5 245.0 462.0 242.5 448.5 240.9 340.5 238.8 303.2 237.5 288.5 236.3 216.5 236.1 211.9 235.5 212.1 234.5 222.2 231.5 221.0 230.5 222.8 229.5 233.8 228.5 227.5 227.1 218.5 226.9 193.5 229.7 175.5 227.9 133.5 227.6 133.5 220.5 133.5 219.8 165.5 219.2 226.5 219.4 237.6 220.5 254.5 224.5 269.5 225.8 289.5 226.1 298.5 227.2 430.5 232.0 447.5 232.2 450.5 232.9 451.7 235.5 455.5 236.1 506.5 236.3 510.5 237.2 516.5 240.1 521.5 240.8 603.5 240.8 617.5 239.4 770.5 239.5 770.5 248.6 610.5 249.6ZM564.5 231.6 540.5 232.2 512.5 231.8 494.3 229.5 492.9 228.5 492.7 227.5 493.6 226.5 496.5 226.3 531.5 225.4 557.9 226.5 571.8 228.5 573.5 229.5 564.5 231.6ZM161.5 259.5 133.5 259.7 133.5 254.2 145.8 253.5 144.8 252.5 138.4 250.5 140.5 249.5 133.5 249.1 133.5 239.4 160.5 239.6 171.2 241.5 185.5 245.1 191.5 246.0 249.5 248.0 292.5 248.4 293.8 248.5 296.5 250.6 319.5 252.5 322.5 253.6 325.1 255.5 325.3 256.5 320.5 257.2 290.5 258.6 255.5 257.0 205.5 256.3 179.5 256.9 161.5 259.5ZM145.9 248.5 144.3 248.5 145.9 248.5ZM770.5 280.1 644.5 279.9 634.8 278.5 629.5 274.5 625.5 272.9 604.5 269.9 501.5 266.0 450.5 265.1 447.1 264.5 445.6 263.5 441.4 262.5 428.5 261.2 419.7 258.5 410.5 257.4 390.5 256.1 342.5 255.3 337.4 253.5 336.3 251.5 337.5 250.3 342.5 249.8 379.5 250.2 446.5 253.1 455.5 254.1 503.5 255.3 559.5 260.7 613.5 262.4 639.5 262.6 644.0 263.5 646.4 266.5 649.5 267.5 669.5 268.9 706.5 269.8 770.5 270.3 770.5 280.1ZM719.5 261.5 653.6 261.5 656.5 260.3 666.5 259.7 674.7 258.5 679.8 256.5 682.5 256.3 770.5 255.4 770.5 261.2 719.5 261.5ZM416.5 270.5 390.5 270.7 303.5 269.8 289.5 268.6 254.1 267.5 257.9 266.5 261.5 266.3 290.5 266.2 306.5 264.1 332.5 262.9 350.5 262.5 396.5 262.9 440.5 267.0 445.5 268.0 446.8 268.5 447.4 269.5 441.5 270.1 416.5 270.5ZM250.5 294.5 232.5 295.3 224.1 294.5 222.6 293.5 221.2 289.5 218.7 286.5 217.1 282.5 213.5 281.2 185.5 279.9 133.5 279.3 133.5 270.5 165.5 270.9 170.4 271.5 175.5 273.2 188.5 273.6 214.5 277.0 235.5 279.1 251.5 280.0 282.5 280.6 298.5 281.8 349.5 281.9 379.5 283.1 396.5 284.7 398.0 284.5 397.4 282.5 402.0 281.5 444.5 280.1 461.5 281.2 533.5 282.2 538.5 282.8 540.1 283.5 540.7 284.5 539.9 286.5 537.5 287.2 518.5 287.9 461.5 287.6 446.5 286.7 423.5 287.1 405.5 286.5 400.5 288.8 398.5 291.5 397.5 292.0 393.5 292.9 388.5 293.2 301.5 292.7 293.5 292.0 284.5 289.6 265.9 289.5 258.1 290.5 255.5 291.5 253.6 293.5 250.5 294.5ZM607.5 281.6 593.5 282.1 571.5 281.7 554.5 279.7 550.8 278.5 554.5 277.1 564.5 275.7 587.5 275.4 606.5 275.7 623.2 278.5 621.6 279.5 607.5 281.6ZM195.5 295.6 185.5 296.4 133.5 295.9 133.5 289.6 169.5 290.0 188.5 290.8 193.5 291.7 196.5 293.3 197.4 294.5 195.5 295.6ZM198.5 322.5 133.5 322.8 133.5 311.5 229.5 310.8 254.5 308.4 284.5 307.9 292.5 308.5 298.5 310.6 302.5 311.4 324.5 311.5 346.5 309.9 360.1 307.5 372.5 306.2 396.5 305.3 444.5 304.9 448.5 304.0 455.5 298.5 460.5 298.0 603.5 296.4 610.5 295.8 616.6 293.5 622.5 293.1 728.5 291.9 743.3 292.5 734.6 295.5 730.9 297.5 731.6 298.5 735.9 300.5 728.5 301.4 685.5 301.6 667.5 302.5 619.5 302.9 614.6 303.5 609.5 305.4 606.5 305.9 576.5 307.5 509.5 307.5 461.5 308.5 455.9 309.5 453.4 311.5 449.5 311.8 386.5 312.0 373.5 312.7 354.1 315.5 354.7 316.5 354.1 317.5 339.5 319.0 301.5 319.0 296.1 318.5 286.6 316.5 259.5 316.4 242.5 315.3 235.5 316.5 227.6 320.5 223.5 321.6 198.5 322.5ZM770.5 321.6 709.5 320.9 698.1 319.5 692.7 318.5 690.9 317.5 710.5 315.1 770.5 315.2 770.5 321.6ZM770.5 338.6 621.5 338.8 614.5 338.2 607.5 334.0 601.5 333.0 460.5 332.9 454.5 332.0 452.5 330.6 451.0 328.5 446.5 327.4 397.5 325.9 384.5 324.5 379.7 323.5 380.5 322.5 381.5 322.3 393.2 320.5 421.5 320.4 445.5 320.8 462.5 323.2 601.5 324.4 607.5 325.5 608.3 326.5 608.6 329.5 609.3 330.5 613.5 331.7 770.5 332.4 770.5 338.6ZM378.5 342.6 354.5 342.1 345.5 340.9 341.5 339.5 342.1 338.5 346.5 337.7 363.5 337.3 382.5 338.3 387.9 339.5 389.2 340.5 387.3 341.5 378.5 342.6ZM326.5 345.5 221.5 345.5 207.5 343.8 203.5 342.5 203.2 341.5 210.5 339.2 215.5 338.6 268.5 338.1 286.7 338.5 300.5 340.7 326.5 341.3 334.7 342.5 335.5 343.5 326.5 345.5ZM567.5 348.5 477.5 348.7 464.5 347.8 459.6 346.5 459.9 345.5 463.5 344.5 474.5 343.6 516.5 343.2 578.5 343.4 586.2 344.5 588.8 345.5 589.7 346.5 588.0 347.5 584.5 348.0 567.5 348.5ZM178.5 352.6 171.5 353.5 133.5 353.5 133.5 346.6 181.5 346.1 187.4 346.5 189.5 347.5 189.0 348.5 178.5 352.6ZM726.5 355.5 657.5 355.4 637.1 354.5 630.4 353.5 628.2 352.5 629.8 351.5 635.4 350.5 650.5 349.7 770.5 349.6 770.5 355.2 726.5 355.5ZM289.5 363.5 250.5 364.0 247.6 363.5 245.9 362.5 252.5 360.8 283.6 360.5 251.5 360.4 245.2 359.5 246.1 358.5 250.1 357.5 255.5 357.1 340.5 357.0 368.5 357.5 375.5 358.2 379.9 359.5 378.6 360.5 369.5 361.7 298.5 361.9 294.5 362.2 289.5 363.5ZM563.5 364.5 459.5 364.5 450.3 363.5 448.9 362.5 449.0 361.5 450.5 360.5 454.5 359.3 459.5 358.7 518.5 358.0 566.5 358.3 578.5 359.8 581.2 360.5 582.6 361.5 580.7 362.5 576.5 363.3 563.5 364.5ZM195.5 372.5 133.5 373.1 133.5 364.6 193.5 364.3 201.5 365.7 203.1 366.5 205.1 369.5 205.0 370.5 202.7 371.5 195.5 372.5ZM770.5 372.7 675.5 372.5 661.1 371.5 655.7 370.5 653.8 369.5 654.9 368.5 659.5 367.4 672.5 366.0 770.5 365.7 770.5 372.7ZM269.5 377.5 253.5 377.0 249.6 376.5 248.8 375.5 259.5 374.1 291.5 373.7 299.5 372.0 304.5 371.6 326.5 372.0 331.3 372.5 331.4 373.5 299.5 374.6 296.5 374.9 289.5 376.9 269.5 377.5ZM603.5 379.5 548.5 379.6 533.5 377.8 532.1 377.5 532.1 376.5 551.5 374.4 578.5 374.1 616.5 374.6 624.5 375.4 625.7 376.5 603.5 379.5ZM446.5 384.6 367.5 384.9 351.5 383.9 348.4 383.5 346.5 382.5 353.5 381.5 363.5 381.1 443.5 380.6 465.5 379.2 523.5 379.3 532.5 380.0 538.6 381.5 536.5 382.7 527.5 383.6 460.5 383.5 446.5 384.6ZM770.5 386.5 690.5 386.6 675.7 385.5 675.5 384.5 682.4 383.5 693.5 383.0 770.5 383.2 770.5 386.5ZM152.5 389.5 133.5 389.7 133.5 384.8 197.5 384.9 213.8 385.5 218.4 386.5 215.5 387.6 202.5 388.5 152.5 389.5ZM341.5 393.6 282.5 393.7 270.8 392.5 270.1 391.5 275.5 389.8 285.5 389.1 298.5 389.9 335.0 390.5 344.5 391.5 347.0 392.5 341.5 393.6ZM608.5 395.5 597.5 396.0 594.9 395.5 594.2 394.5 605.5 392.7 607.1 390.5 609.4 389.5 617.5 388.7 651.5 388.8 662.5 390.3 664.2 391.5 656.5 393.6 652.5 394.1 621.5 394.3 608.5 395.5ZM416.5 395.7 409.5 396.3 385.5 396.1 376.0 395.5 374.6 394.5 410.5 394.4 417.2 395.5 416.5 395.7Z"/>
<path fill="#ff5000" fill-rule="evenodd" d="M203.5 161.5 184.5 161.8 169.5 160.9 148.3 160.5 148.2 158.5 145.2 157.5 145.2 154.5 210.5 154.5 210.5 157.5 209.3 160.5 203.5 161.5ZM192.5 188.5 133.5 188.7 133.5 175.5 185.5 176.9 221.5 176.1 291.5 171.3 362.5 168.8 382.5 166.9 395.4 164.5 399.7 160.5 400.1 159.5 399.0 157.5 399.0 154.5 593.2 154.5 593.2 157.5 592.2 158.5 586.7 161.5 575.5 166.2 567.4 170.5 565.1 172.5 563.5 172.9 556.5 171.1 547.5 170.1 455.5 170.6 438.9 172.5 398.5 175.0 371.5 177.5 328.5 179.0 299.5 182.2 286.5 184.5 223.5 187.6 192.5 188.5ZM757.5 160.5 746.9 160.5 736.9 159.5 750.5 158.3 770.5 159.2 770.5 159.8 757.5 160.5ZM770.5 188.9 731.7 188.5 721.1 187.5 708.5 184.1 679.5 181.0 620.5 179.7 606.5 178.8 578.5 178.7 575.7 178.5 574.6 177.5 578.1 172.5 582.4 168.5 588.5 167.1 604.5 166.2 629.5 166.2 675.5 168.4 732.5 174.0 752.5 174.9 770.5 174.9 770.5 188.9ZM708.5 213.5 691.5 213.7 681.5 211.1 674.5 210.2 633.5 206.3 574.5 202.6 526.5 196.9 489.5 195.1 455.5 195.6 448.5 196.6 429.8 197.5 385.5 199.0 332.5 201.7 288.5 202.9 274.5 204.0 260.5 206.3 251.5 205.8 234.5 208.0 167.5 210.7 133.5 210.7 133.5 201.5 133.5 201.1 184.5 200.9 208.5 200.1 258.5 197.0 336.5 190.4 460.5 185.1 510.5 185.4 525.5 186.4 544.5 188.9 605.5 192.2 613.5 193.8 642.5 194.3 662.5 195.4 713.5 200.1 735.5 201.1 770.5 201.1 770.5 211.5 734.5 212.1 708.5 213.5ZM770.5 229.9 683.5 228.4 623.5 225.5 612.4 224.5 611.5 222.5 607.5 221.1 585.5 219.5 556.5 216.0 529.5 213.9 457.5 212.0 452.6 211.5 452.9 210.5 454.5 209.8 462.0 208.5 463.5 207.5 462.2 206.5 470.5 205.6 511.5 206.3 605.3 209.5 613.5 211.9 628.5 213.4 644.5 216.0 679.5 219.5 697.5 222.0 716.5 222.9 743.5 222.2 770.5 222.1 770.5 229.9ZM475.5 222.6 403.5 222.4 326.5 219.5 300.5 219.4 289.5 218.5 272.5 218.7 269.7 218.5 268.7 217.5 270.3 216.5 268.5 215.5 269.7 214.5 277.1 213.5 289.5 212.8 386.5 213.3 444.8 215.5 454.5 217.7 471.2 218.5 476.6 221.5 475.5 222.6ZM609.5 249.5 524.5 249.7 518.8 248.5 513.5 246.1 505.5 244.9 463.7 242.5 448.5 240.8 340.5 238.7 306.0 237.5 288.5 236.1 217.5 236.0 213.6 235.5 214.2 234.5 215.5 234.0 225.6 231.5 223.9 230.5 225.3 229.5 231.5 229.3 235.0 228.5 229.5 227.2 222.5 226.8 214.5 227.0 194.5 229.6 176.5 227.9 133.5 227.5 133.5 220.5 133.5 220.0 166.5 219.3 226.5 219.5 235.8 220.5 252.6 224.5 268.5 225.9 288.5 226.2 296.5 227.2 313.5 227.9 428.5 232.1 447.5 232.3 449.3 232.5 450.5 233.4 451.1 235.5 455.5 236.2 506.5 236.4 510.5 237.4 516.5 240.3 519.5 240.9 604.5 240.9 618.5 239.5 770.5 239.5 770.5 248.5 616.5 249.1 609.5 249.5ZM563.5 231.6 540.5 232.1 512.5 231.7 496.0 229.5 494.6 228.5 494.5 227.5 495.9 226.5 497.5 226.4 530.5 225.6 556.6 226.5 565.0 227.5 571.7 229.5 563.5 231.6ZM158.5 259.5 133.5 259.6 133.5 254.6 152.0 253.5 154.3 252.5 153.5 251.9 145.5 251.6 142.8 250.5 147.5 250.0 154.5 250.6 155.3 249.5 146.5 248.0 133.5 248.4 133.5 239.5 161.5 239.9 190.5 246.1 239.5 247.9 292.5 248.5 295.2 250.5 296.5 250.8 319.5 252.8 323.0 254.5 324.2 255.5 324.3 256.5 290.5 258.4 255.5 256.9 204.5 256.1 179.5 256.8 158.5 259.5ZM770.5 279.9 645.5 279.7 638.2 278.5 631.7 273.5 629.6 272.5 614.5 271.1 605.5 269.7 501.5 265.7 453.5 264.9 450.3 264.5 446.8 262.5 432.5 261.0 421.6 258.5 411.5 257.3 394.5 256.1 343.5 255.1 338.3 253.5 337.3 252.5 337.1 251.5 337.8 250.5 342.5 250.0 379.5 250.3 446.5 253.2 455.5 254.2 502.5 255.4 558.5 260.8 615.5 262.6 639.5 262.8 643.3 263.5 645.5 266.5 648.5 267.5 668.5 269.0 706.5 270.0 770.5 270.4 770.5 279.9ZM681.5 261.5 655.5 261.5 656.5 260.4 667.5 259.8 675.5 258.6 679.5 256.9 682.5 256.4 770.5 255.6 770.5 261.0 681.5 261.5ZM443.5 269.6 393.5 270.5 312.5 269.6 301.5 269.4 287.5 267.6 268.7 267.5 287.5 267.3 309.5 264.7 347.5 263.1 394.5 263.2 403.5 263.8 441.5 268.2 443.3 268.5 444.5 269.5 443.5 269.6ZM246.5 293.6 236.5 294.3 227.8 293.5 222.4 284.5 222.0 283.5 222.7 281.5 216.5 280.3 183.5 278.8 133.5 278.6 133.5 270.7 165.5 271.2 168.5 271.5 171.5 273.7 173.5 274.2 188.0 274.5 216.5 278.0 239.5 280.2 283.5 281.0 300.5 282.0 351.5 282.3 382.5 284.4 395.5 286.4 398.5 287.5 397.2 289.5 397.2 290.5 396.1 291.5 389.5 292.5 301.5 292.3 293.5 291.5 289.2 289.5 287.5 289.3 266.5 289.0 258.5 289.3 251.7 290.5 248.6 291.5 246.5 293.6ZM605.5 281.5 573.5 281.5 564.0 280.5 554.8 278.5 557.0 277.5 567.5 276.1 599.5 275.7 609.2 276.5 616.8 278.5 617.1 279.5 605.5 281.5ZM519.5 287.5 423.5 286.3 413.5 285.5 407.4 284.5 404.9 283.5 405.4 282.5 417.5 281.2 442.5 280.5 463.5 282.1 529.5 282.6 535.5 283.1 538.5 284.5 538.4 285.5 537.5 286.2 535.5 286.7 519.5 287.5ZM192.5 295.6 182.5 296.0 133.5 295.6 133.5 289.9 186.5 291.0 191.5 291.9 195.0 293.5 195.4 294.5 192.5 295.6ZM212.5 321.5 133.5 321.8 133.5 312.3 222.5 311.8 237.5 311.1 253.5 308.9 283.5 308.3 292.5 309.0 298.5 311.4 302.5 312.3 326.5 312.4 349.5 311.2 369.4 307.5 390.5 305.9 449.5 306.3 452.4 305.5 451.8 303.5 452.1 302.5 455.5 300.1 458.5 298.7 463.5 298.3 601.5 296.9 611.5 296.2 618.5 294.1 623.4 293.5 672.5 293.1 691.5 292.4 733.6 292.5 725.4 297.5 725.2 298.5 726.6 299.5 726.7 300.5 725.5 300.6 620.5 302.3 614.5 302.9 608.5 305.1 605.5 305.6 577.5 307.0 455.5 307.1 450.5 308.1 447.9 310.5 443.5 311.0 385.5 311.4 369.5 312.0 361.0 313.5 349.8 314.5 346.8 315.5 348.0 316.5 346.7 317.5 337.5 318.1 303.5 318.4 298.5 317.9 293.5 316.5 289.5 316.0 262.5 315.8 241.5 314.7 232.5 316.1 229.0 318.5 224.5 320.5 212.5 321.5ZM770.5 321.2 714.4 320.5 704.5 319.7 698.4 318.5 698.6 317.5 712.5 315.9 770.5 315.7 770.5 321.2ZM599.5 331.5 569.5 332.2 461.5 331.8 456.5 331.1 455.3 330.5 453.5 328.2 448.5 326.8 405.3 325.5 391.7 324.5 385.5 323.5 386.3 322.5 394.5 321.4 439.5 321.2 447.2 321.5 454.5 323.7 459.5 324.1 565.5 324.6 599.5 325.4 603.9 326.5 604.4 330.5 599.5 331.5ZM657.5 338.5 641.5 338.6 619.5 337.9 615.5 337.0 613.0 334.5 613.3 333.5 615.5 333.0 628.5 332.6 770.5 333.1 770.5 337.7 657.5 338.5ZM380.5 341.6 370.5 341.9 356.5 341.5 348.8 340.5 346.4 339.5 351.5 338.2 363.5 337.9 377.5 338.5 383.4 339.5 384.8 340.5 380.5 341.6ZM325.5 344.5 312.5 344.9 223.5 344.6 213.2 343.5 208.7 342.5 208.3 341.5 212.5 340.5 218.5 340.0 270.5 338.9 287.6 339.5 293.5 341.2 298.5 341.9 326.5 342.4 329.7 343.5 325.5 344.5ZM578.5 347.5 551.5 348.0 482.5 347.9 468.4 346.5 468.1 345.5 475.0 344.5 492.5 344.0 554.5 343.9 579.9 344.5 584.5 345.5 585.1 346.5 578.5 347.5ZM175.5 351.6 168.5 352.4 133.5 352.4 133.5 348.1 179.5 347.3 183.5 347.5 184.2 348.5 175.5 351.6ZM754.5 354.5 722.5 355.1 663.5 354.9 646.5 354.2 640.0 353.5 636.6 352.5 638.8 351.5 648.1 350.5 673.5 349.9 770.5 350.5 770.5 354.3 754.5 354.5ZM343.5 361.5 301.5 360.9 297.3 360.5 292.5 358.9 287.8 358.5 320.5 357.7 353.5 357.7 365.5 358.3 372.8 359.5 372.7 360.5 367.5 361.0 343.5 361.5ZM563.5 363.5 538.5 364.0 462.5 363.6 456.5 362.8 455.8 362.5 455.6 361.5 456.8 360.5 463.5 359.8 532.5 359.0 563.1 359.5 571.8 360.5 574.2 361.5 571.3 362.5 563.5 363.5ZM196.5 371.6 185.5 372.3 133.5 372.4 133.5 365.3 192.5 365.3 197.7 366.5 199.7 368.5 200.2 369.5 199.9 370.5 196.5 371.6ZM770.5 371.7 729.5 372.0 675.5 371.6 664.9 370.5 662.0 369.5 663.8 368.5 669.0 367.5 677.5 366.9 725.5 366.4 770.5 366.6 770.5 371.7ZM286.5 376.6 260.5 376.8 255.1 376.5 253.4 375.5 263.5 374.6 283.5 374.4 289.5 374.5 291.3 375.5 286.5 376.6ZM606.5 378.6 582.5 379.3 554.5 379.1 546.5 378.6 539.9 377.5 540.2 376.5 548.5 375.4 573.5 374.7 607.5 375.0 616.8 375.5 619.5 376.5 606.5 378.6ZM379.5 384.5 363.5 384.5 354.4 383.5 352.6 382.5 367.5 381.3 443.5 381.2 464.5 380.1 523.5 380.2 534.9 381.5 533.3 382.5 524.5 383.0 460.5 383.0 444.5 384.0 379.5 384.5ZM770.5 385.6 690.1 385.5 690.5 384.5 694.5 384.4 770.5 384.4 770.5 385.6ZM195.5 388.5 133.5 388.8 133.5 385.9 193.5 385.2 205.5 385.5 214.1 386.5 211.5 387.5 195.5 388.5ZM654.5 392.5 646.5 393.2 616.5 393.3 613.5 392.5 613.4 391.5 613.9 390.5 618.5 389.6 636.5 389.5 650.5 389.8 657.1 390.5 658.6 391.5 654.5 392.5ZM342.5 392.6 331.5 393.5 287.5 393.3 276.5 392.6 275.7 391.5 279.9 390.5 285.5 390.1 317.5 390.6 338.5 391.3 343.2 392.5 342.5 392.6Z"/>
<path fill="#f02020" fill-rule="evenodd" d="M199.5 161.5 181.5 161.6 173.2 160.5 170.2 158.5 169.8 154.5 209.7 154.5 209.7 157.5 208.4 160.5 199.5 161.5ZM188.5 188.5 133.5 188.6 133.5 175.7 195.5 177.0 225.5 176.0 292.5 171.4 363.5 168.9 382.5 167.0 396.1 164.5 399.5 161.5 400.8 159.5 399.8 157.5 399.8 154.5 592.7 154.5 592.7 157.5 591.5 158.5 586.0 161.5 574.5 166.3 563.5 172.5 556.5 170.9 547.5 170.0 456.5 170.3 447.5 171.7 397.5 174.9 370.5 177.5 327.5 179.0 298.5 182.1 285.1 184.5 222.5 187.5 188.5 188.5ZM753.5 160.5 742.8 159.5 747.1 158.5 751.5 158.4 756.2 158.5 760.4 159.5 753.5 160.5ZM770.5 188.8 733.1 188.5 722.1 187.5 709.5 184.1 680.5 180.9 620.5 179.6 606.5 178.7 578.5 178.6 576.6 178.5 575.2 177.5 577.4 174.5 581.8 170.5 583.3 168.5 589.5 167.2 604.5 166.3 629.5 166.3 675.5 168.5 731.5 174.1 752.5 175.0 770.5 175.1 770.5 188.8ZM707.5 213.5 691.5 213.6 681.5 211.0 675.5 210.1 634.5 206.2 575.0 202.5 527.5 196.9 489.5 195.0 456.5 195.3 446.5 196.7 383.5 199.0 332.5 201.6 286.5 202.8 273.5 204.0 261.5 206.0 251.5 205.6 235.5 207.8 167.5 210.6 133.5 210.6 133.5 201.5 185.5 201.0 209.5 200.2 259.5 197.1 285.2 194.5 336.5 190.5 355.5 189.5 380.5 189.0 448.5 185.5 460.5 185.2 509.8 185.5 525.5 186.5 543.5 189.0 605.5 192.3 613.5 194.0 642.5 194.4 662.1 195.5 712.5 200.2 734.5 201.2 770.5 201.2 770.5 211.3 733.5 212.0 707.5 213.5ZM770.5 229.8 746.5 229.0 683.5 228.2 625.0 225.5 613.1 224.5 612.2 222.5 607.5 220.9 586.8 219.5 546.5 215.0 508.5 213.0 453.6 211.5 455.5 210.2 464.5 208.5 466.5 206.4 472.5 205.8 511.5 206.4 603.2 209.5 606.5 209.9 613.5 212.0 628.0 213.5 644.5 216.1 678.9 219.5 697.5 222.1 716.5 223.1 736.5 222.4 770.5 222.2 770.5 229.8ZM474.5 222.5 402.5 222.2 324.5 219.3 300.5 219.2 289.5 218.3 272.5 218.6 270.9 218.5 270.3 217.5 272.0 216.5 270.5 215.5 270.6 214.5 278.4 213.5 288.5 213.0 384.5 213.4 443.1 215.5 448.5 216.2 454.5 217.9 470.3 218.5 473.1 219.5 476.1 221.5 474.5 222.5ZM608.5 249.5 523.5 249.5 519.5 248.5 516.8 245.5 515.5 242.4 513.5 241.7 510.1 242.5 512.2 244.5 509.5 245.0 465.6 242.5 448.5 240.7 340.5 238.6 308.7 237.5 289.5 236.0 217.5 235.8 215.0 235.5 216.5 234.2 227.6 231.5 228.5 230.5 236.0 228.5 230.5 227.2 223.5 226.7 213.5 227.0 194.5 229.5 179.5 227.9 164.5 227.3 133.5 227.3 133.5 220.5 133.5 220.1 166.5 219.4 225.3 219.5 234.3 220.5 252.5 224.8 267.5 226.0 288.5 226.3 295.5 227.2 312.5 228.0 391.5 230.5 426.5 232.1 447.5 232.4 450.1 233.5 450.6 235.5 455.5 236.3 506.5 236.5 510.2 237.5 517.5 241.1 604.5 241.0 618.5 239.7 770.5 239.7 770.5 248.3 616.5 248.9 608.5 249.5ZM562.5 231.6 539.5 231.9 512.5 231.6 497.2 229.5 495.8 228.5 495.8 227.5 497.7 226.5 519.5 225.8 546.5 226.1 563.9 227.5 567.1 228.5 568.4 229.5 567.1 230.5 562.5 231.6ZM166.5 258.5 157.5 259.4 133.5 259.4 133.5 254.8 145.4 254.5 153.5 253.6 156.5 252.5 157.8 251.5 157.9 250.5 156.5 249.3 147.4 247.5 133.5 248.2 133.5 239.7 162.5 240.2 169.9 241.5 186.5 245.7 190.5 246.2 239.5 248.0 291.5 248.5 295.5 250.8 318.5 252.9 320.7 253.5 323.3 255.5 323.2 256.5 320.5 256.8 290.5 258.2 256.5 256.8 208.5 255.9 182.5 256.4 166.5 258.5ZM770.5 279.8 645.6 279.5 640.5 278.5 636.0 275.5 633.5 272.5 629.6 271.5 616.5 270.9 603.5 269.2 555.5 267.3 500.5 265.4 454.5 264.7 452.5 264.5 448.5 262.4 429.5 260.1 422.5 258.4 413.5 257.3 395.5 255.9 345.5 255.0 339.2 253.5 338.0 252.5 337.9 251.5 338.7 250.5 342.5 250.1 379.5 250.5 446.5 253.3 454.5 254.3 502.5 255.5 558.5 261.0 614.5 262.8 639.5 263.0 642.4 263.5 643.4 264.5 644.2 266.5 647.5 267.6 666.5 269.1 685.5 269.9 770.5 270.6 770.5 279.8ZM676.5 261.5 659.7 261.5 657.3 260.5 667.5 260.1 675.5 258.9 677.3 258.5 679.5 257.2 683.5 256.4 770.5 255.8 770.5 260.9 676.5 261.5ZM425.5 269.5 392.5 270.1 317.5 269.4 299.3 268.5 296.2 267.5 299.9 266.5 310.5 265.2 331.5 264.1 352.5 263.5 392.5 263.5 402.5 264.1 421.5 267.1 433.9 268.5 425.5 269.5ZM142.5 275.5 133.5 275.7 133.5 270.9 162.5 271.2 166.5 271.5 168.4 272.5 167.5 273.8 163.5 274.9 142.5 275.5ZM601.5 281.5 573.5 281.0 562.4 279.5 559.5 278.5 562.2 277.5 570.1 276.5 599.5 276.0 608.5 276.9 613.6 278.5 614.0 279.5 611.0 280.5 601.5 281.5ZM392.5 291.7 381.5 292.2 301.5 292.0 295.7 291.5 291.5 289.4 286.5 288.7 250.5 288.6 247.5 287.9 244.1 285.5 244.5 284.3 247.5 283.0 262.6 281.5 348.5 282.4 377.5 284.9 388.7 286.5 393.2 287.5 394.2 288.5 395.1 290.5 392.5 291.7ZM452.5 285.6 424.5 285.6 417.2 284.5 414.5 283.5 414.5 282.5 422.5 281.3 444.5 281.0 452.5 281.7 456.6 282.5 458.0 283.5 456.5 284.8 452.5 285.6ZM531.5 286.6 515.5 287.2 500.5 287.0 489.5 286.2 486.2 285.5 485.5 284.5 491.5 283.2 506.5 282.6 529.5 283.2 536.0 284.5 536.1 285.5 531.5 286.6ZM188.5 295.5 133.5 295.4 133.5 290.1 183.5 291.1 189.5 291.9 193.3 293.5 193.5 294.5 188.5 295.5ZM578.5 306.5 470.5 306.6 458.5 305.4 454.5 303.8 453.8 302.5 456.5 300.7 460.5 299.2 471.5 298.3 606.5 297.3 612.5 296.9 624.5 295.0 670.5 293.9 693.5 292.7 712.6 293.5 718.5 294.3 722.2 295.5 721.5 296.5 718.5 298.5 714.5 299.5 619.5 301.6 614.5 302.3 608.5 304.6 604.5 305.4 578.5 306.5ZM406.5 310.5 390.5 310.3 380.6 308.5 381.6 307.5 389.3 306.5 397.5 306.2 420.5 307.3 427.3 308.5 425.5 309.5 406.5 310.5ZM318.5 316.5 305.5 317.3 295.5 315.4 262.5 315.3 247.5 313.9 231.3 313.5 233.3 312.5 252.5 309.4 286.5 308.7 292.4 309.5 298.6 312.5 301.5 314.7 315.5 315.5 318.5 316.5ZM216.5 320.5 133.5 320.6 133.5 315.8 179.5 315.7 195.5 314.0 205.5 313.8 216.5 314.8 224.3 317.5 224.5 318.5 222.8 319.5 216.5 320.5ZM770.5 320.9 731.1 320.5 711.6 319.5 706.2 318.5 709.2 317.5 720.5 316.7 770.5 316.2 770.5 320.9ZM448.5 324.6 420.5 324.8 412.3 324.5 407.0 323.5 411.4 322.5 415.5 322.3 440.5 322.2 445.0 322.5 447.5 323.5 448.9 324.5 448.5 324.6ZM576.5 331.5 493.5 331.6 462.5 330.6 458.6 329.5 456.8 327.5 453.4 325.5 488.5 324.9 568.5 325.3 586.5 326.3 593.5 327.4 595.8 328.5 594.8 329.5 590.4 330.5 576.5 331.5ZM666.5 337.5 650.5 338.3 638.5 338.1 622.5 336.8 620.5 336.5 618.8 335.5 620.6 334.5 624.5 334.1 646.5 333.5 719.5 334.1 728.4 334.5 733.8 335.5 732.2 336.5 721.5 337.1 666.5 337.5ZM374.5 340.5 359.5 340.5 354.0 339.5 359.5 338.9 365.5 339.0 374.8 339.5 375.0 340.5 374.5 340.5ZM267.5 343.5 251.4 343.5 241.0 342.5 239.7 341.5 247.2 340.5 262.5 340.1 271.9 340.5 277.6 341.5 276.8 342.5 267.5 343.5ZM564.5 346.6 550.5 347.2 507.5 347.2 487.0 346.5 487.9 345.5 497.5 345.0 545.5 344.9 564.6 345.5 565.5 346.5 564.5 346.6ZM732.5 354.5 673.5 354.4 654.5 353.5 651.0 352.5 655.1 351.5 667.7 350.5 692.5 350.2 734.5 350.6 748.4 351.5 752.6 352.5 749.1 353.5 732.5 354.5ZM356.5 360.5 318.5 360.5 312.4 359.5 322.5 358.8 337.5 358.7 352.5 358.8 361.9 359.5 356.5 360.5ZM554.5 362.5 541.5 363.0 491.5 363.0 479.7 362.5 476.3 361.5 487.5 360.3 529.5 360.2 551.5 360.4 558.7 361.5 554.5 362.5ZM184.5 371.5 133.5 371.5 133.5 366.8 188.5 366.8 193.5 367.5 195.3 369.5 194.6 370.5 193.5 370.7 184.5 371.5ZM755.5 370.5 709.5 370.9 700.1 370.5 695.3 369.5 697.7 368.5 706.5 367.8 733.5 367.5 752.5 367.9 758.4 368.5 760.7 369.5 755.5 370.5ZM282.5 375.5 264.6 375.5 283.0 375.5 282.5 375.5ZM594.5 378.5 573.5 378.8 549.1 377.5 550.1 376.5 551.5 376.4 575.5 375.1 601.5 375.9 607.5 376.5 605.6 377.5 603.5 377.8 594.5 378.5ZM527.5 381.5 508.5 382.1 461.5 382.0 455.8 381.5 527.5 381.5ZM389.5 383.5 368.5 384.3 359.8 383.5 359.5 382.5 371.5 381.7 388.5 382.3 450.7 382.5 418.5 383.4 389.5 383.5ZM207.5 387.6 185.5 388.3 172.8 387.5 173.5 386.5 185.5 385.5 198.5 385.6 209.9 386.5 207.5 387.6ZM334.5 392.5 286.5 392.6 284.1 392.5 282.3 391.5 331.4 391.5 335.5 392.5 334.5 392.5Z"/>
<path fill="#ffa0a0" fill-rule="evenodd" d="M194.5 161.5 182.7 161.5 175.7 160.5 172.6 158.5 172.1 154.5 208.8 154.5 208.8 157.5 207.3 160.5 194.5 161.5ZM185.5 188.5 133.5 188.5 133.5 175.9 196.5 177.1 226.5 176.1 292.5 171.5 364.5 169.0 383.5 167.1 396.9 164.5 400.2 161.5 401.5 159.5 400.5 157.5 400.5 154.5 592.0 154.5 592.0 157.5 590.8 158.5 585.3 161.5 574.5 166.0 563.5 172.0 552.5 170.1 547.5 169.8 456.5 170.1 447.5 171.5 408.5 174.0 368.9 177.5 326.5 178.9 298.5 181.9 290.5 183.6 283.0 184.5 221.2 187.5 185.5 188.5ZM757.5 159.6 751.5 160.2 745.1 159.5 752.5 158.5 758.1 159.5 757.5 159.6ZM770.5 188.6 735.5 188.5 723.3 187.5 710.5 184.0 680.5 180.8 621.2 179.5 607.5 178.6 578.5 178.5 575.9 177.5 579.5 173.3 583.0 170.5 583.1 169.5 584.2 168.5 589.5 167.3 603.5 166.4 629.5 166.4 673.5 168.5 730.5 174.2 751.5 175.2 770.5 175.2 770.5 188.6ZM705.5 213.5 691.7 213.5 682.5 211.0 676.5 210.1 634.5 206.0 576.6 202.5 529.5 196.9 490.5 194.8 456.5 195.1 446.5 196.6 381.5 198.9 331.5 201.5 296.5 202.1 273.5 203.8 260.5 205.9 251.5 205.2 235.5 207.7 167.5 210.5 133.5 210.6 133.5 201.5 185.5 201.2 210.5 200.2 260.5 197.1 286.9 194.5 337.8 190.5 357.5 189.5 381.5 189.1 449.7 185.5 460.5 185.4 507.5 185.5 524.6 186.5 543.5 189.2 605.5 192.4 612.5 194.1 642.6 194.5 674.4 196.5 711.5 200.2 733.5 201.3 770.5 201.4 770.5 211.1 732.5 211.9 705.5 213.5ZM770.5 229.6 746.5 228.8 700.0 228.5 667.0 227.5 627.2 225.5 614.1 224.5 612.9 222.5 608.5 220.9 588.4 219.5 547.5 214.9 510.5 212.9 454.8 211.5 456.5 210.5 465.5 208.7 467.8 206.5 473.5 206.0 510.5 206.5 600.6 209.5 606.5 210.2 612.5 212.1 626.9 213.5 643.5 216.2 677.7 219.5 696.5 222.2 716.5 223.2 736.5 222.5 770.5 222.4 770.5 229.6ZM473.5 222.5 419.5 222.5 380.1 221.5 325.5 219.1 299.5 219.0 289.5 218.1 273.2 218.5 271.8 217.5 273.3 216.5 271.8 214.5 280.0 213.5 290.5 213.1 377.5 213.4 441.0 215.5 448.5 216.4 453.5 218.0 469.5 218.6 472.5 219.5 475.5 221.5 473.5 222.5ZM508.5 244.5 467.8 242.5 448.5 240.6 341.2 238.5 311.4 237.5 289.5 235.8 218.5 235.7 216.5 235.5 217.5 234.3 229.2 231.5 237.0 228.5 230.5 227.0 223.5 226.6 213.5 226.8 194.5 229.3 180.5 227.8 164.5 227.1 133.5 227.1 133.5 220.5 166.5 219.5 223.0 219.5 233.0 220.5 251.5 224.9 266.5 226.1 288.5 226.4 305.5 227.9 389.6 230.5 423.5 232.2 446.9 232.5 449.5 233.5 449.9 235.5 452.5 236.2 505.3 236.5 509.6 237.5 514.7 240.5 507.9 241.5 507.7 242.5 508.8 243.5 508.5 244.5ZM705.3 225.5 693.3 225.5 703.5 226.1 705.3 225.5ZM561.5 231.5 512.8 231.5 498.3 229.5 496.9 228.5 496.9 227.5 499.6 226.5 519.5 226.0 548.5 226.3 562.8 227.5 565.5 228.5 566.3 229.5 565.8 230.5 561.5 231.5ZM165.5 258.5 156.5 259.2 133.5 259.2 133.5 255.0 152.5 254.2 155.5 253.5 159.4 251.5 159.3 250.5 158.5 249.5 148.5 247.3 133.5 247.9 133.5 239.9 162.5 240.3 186.5 245.9 203.5 247.1 239.5 248.2 289.8 248.5 292.5 249.3 293.4 250.5 295.5 251.0 318.5 253.2 322.5 255.5 321.9 256.5 320.5 256.7 289.5 257.9 223.5 255.8 184.5 256.1 175.5 256.8 165.5 258.5ZM606.5 249.5 524.4 249.5 520.4 248.5 517.9 242.5 518.3 241.5 522.5 241.3 604.5 241.2 617.5 240.0 770.5 239.9 770.5 248.1 615.5 248.8 606.5 249.5ZM770.5 279.6 649.5 279.5 642.5 278.5 637.9 275.5 636.6 273.5 637.7 270.5 637.5 269.5 636.5 269.1 631.5 270.6 620.5 270.8 604.5 269.0 557.5 267.1 500.5 265.2 455.5 264.5 448.5 261.9 430.5 259.9 423.5 258.2 414.5 257.2 396.5 255.8 346.5 254.8 340.1 253.5 338.9 252.5 338.7 251.5 339.7 250.5 343.5 250.2 377.5 250.6 446.5 253.5 452.5 254.3 465.5 254.9 500.4 255.5 557.5 261.1 613.5 263.0 639.5 263.3 641.2 263.5 642.5 264.5 641.7 266.5 644.7 267.5 663.5 269.1 684.5 270.1 770.5 270.9 770.5 279.6ZM770.5 260.7 673.5 261.3 659.4 260.5 670.5 259.9 677.5 258.8 679.5 257.5 685.5 256.5 770.5 256.0 770.5 260.7ZM403.5 269.5 355.5 269.6 318.5 269.0 309.5 268.5 307.0 267.5 307.7 266.5 314.5 265.3 355.5 263.8 398.5 264.0 409.3 265.5 414.6 266.5 417.1 267.5 414.8 268.5 403.5 269.5ZM151.5 274.5 133.5 274.8 133.5 271.1 162.5 271.4 166.4 272.5 164.9 273.5 162.5 274.0 151.5 274.5ZM608.5 280.5 598.5 281.2 579.5 281.0 570.5 280.2 566.8 279.5 565.2 278.5 568.4 277.5 579.6 276.5 602.5 276.4 608.5 277.4 611.2 278.5 611.5 279.5 608.5 280.5ZM452.5 284.6 445.5 285.3 427.5 285.2 420.5 284.2 418.6 283.5 418.5 282.5 426.5 281.6 446.5 281.5 453.0 282.5 454.1 283.5 452.5 284.6ZM388.5 291.6 301.5 291.7 296.5 291.1 293.5 289.4 289.7 288.5 258.5 287.7 252.5 286.9 249.5 285.5 250.3 284.5 254.5 283.4 268.5 282.1 344.5 282.6 357.9 283.5 376.5 285.9 388.5 288.3 391.5 289.3 392.7 290.5 388.5 291.6ZM525.5 286.5 500.5 286.6 491.5 285.5 490.7 284.5 499.5 283.2 515.5 283.1 530.5 284.0 533.0 284.5 533.3 285.5 525.5 286.5ZM191.5 294.5 182.5 295.3 133.5 295.1 133.5 290.4 184.5 291.5 189.7 292.5 191.7 293.5 191.5 294.5ZM708.5 297.6 700.5 298.3 688.5 298.2 679.5 297.1 675.7 295.5 678.0 294.5 682.5 293.9 695.5 293.2 707.5 293.8 714.6 295.5 713.5 296.5 708.5 297.6ZM590.5 305.5 574.5 306.1 472.5 306.1 460.5 304.8 456.5 303.6 455.5 302.5 457.5 301.1 462.5 299.6 475.5 298.5 603.5 297.8 611.5 298.2 615.2 299.5 615.3 300.5 613.9 301.5 607.1 304.5 602.5 305.2 590.5 305.5ZM405.5 308.6 400.5 309.4 394.5 309.4 388.2 308.5 388.1 307.5 394.5 306.8 400.5 306.8 405.9 307.5 405.5 308.6ZM293.5 314.6 260.5 314.7 257.5 314.4 254.2 313.5 253.3 312.5 249.1 311.5 249.4 310.5 257.4 309.5 287.5 309.2 291.5 309.9 295.8 312.5 296.2 313.5 293.5 314.6ZM209.5 318.5 196.5 318.6 190.5 317.8 189.5 317.5 188.8 316.5 194.5 315.1 203.5 314.6 211.5 315.1 216.0 316.5 214.5 317.8 209.5 318.5ZM770.5 320.5 736.5 320.3 724.1 319.5 721.4 318.5 726.9 317.5 736.5 317.0 770.5 316.8 770.5 320.5ZM582.5 330.6 568.5 331.1 490.5 331.0 474.5 330.0 470.6 329.5 468.2 328.5 469.6 327.5 475.5 326.4 492.5 325.6 571.5 326.0 583.5 326.9 590.4 328.5 589.3 329.5 582.5 330.6ZM656.5 337.5 640.5 337.8 631.5 336.5 633.1 335.5 635.5 335.1 646.5 334.6 657.5 335.1 660.2 335.5 662.0 336.5 656.5 337.5ZM736.5 353.6 721.5 354.3 683.5 354.1 668.8 353.5 663.6 352.5 665.8 351.5 670.5 351.0 689.5 350.6 725.5 350.9 736.0 351.5 740.2 352.5 736.5 353.6ZM590.5 377.5 578.5 378.4 566.9 377.5 567.6 376.5 578.5 375.6 589.5 376.4 590.5 377.5ZM378.5 383.6 371.5 383.9 364.2 383.5 364.6 382.5 371.5 382.1 379.1 382.5 379.1 383.5 378.5 383.6ZM203.5 387.6 187.5 388.0 178.0 387.5 178.7 386.5 186.5 385.9 205.7 386.5 203.5 387.6Z"/></g></g>
<g stroke="#000" stroke-width="2"><line x1="147.5" y1="473" x2="147.5" y2="469" stroke-width="1"/><line x1="147.5" y1="157" x2="147.5" y2="161" stroke-width="1"/><line x1="160.5" y1="473" x2="160.5" y2="469" stroke-width="1"/><line x1="160.5" y1="157" x2="160.5" y2="161" stroke-width="1"/><line x1="172.5" y1="473" x2="172.5" y2="469" stroke-width="1"/><line x1="172.5" y1="157" x2="172.5" y2="161" stroke-width="1"/><line x1="185.5" y1="473" x2="185.5" y2="469" stroke-width="1"/><line x1="185.5" y1="157" x2="185.5" y2="161" stroke-width="1"/><line x1="198.0" y1="473" x2="198.0" y2="464" stroke-width="2"/><line x1="198.0" y1="157" x2="198.0" y2="166" stroke-width="2"/><line x1="211.5" y1="473" x2="211.5" y2="469" stroke-width="1"/><line x1="211.5" y1="157" x2="211.5" y2="161" stroke-width="1"/><line x1="223.5" y1="473" x2="223.5" y2="469" stroke-width="1"/><line x1="223.5" y1="157" x2="223.5" y2="161" stroke-width="1"/><line x1="236.5" y1="473" x2="236.5" y2="469" stroke-width="1"/><line x1="236.5" y1="157" x2="236.5" y2="161" stroke-width="1"/><line x1="249.5" y1="473" x2="249.5" y2="469" stroke-width="1"/><line x1="249.5" y1="157" x2="249.5" y2="161" stroke-width="1"/><line x1="262.0" y1="473" x2="262.0" y2="464" stroke-width="2"/><line x1="262.0" y1="157" x2="262.0" y2="166" stroke-width="2"/><line x1="274.5" y1="473" x2="274.5" y2="469" stroke-width="1"/><line x1="274.5" y1="157" x2="274.5" y2="161" stroke-width="1"/><line x1="287.5" y1="473" x2="287.5" y2="469" stroke-width="1"/><line x1="287.5" y1="157" x2="287.5" y2="161" stroke-width="1"/><line x1="299.5" y1="473" x2="299.5" y2="469" stroke-width="1"/><line x1="299.5" y1="157" x2="299.5" y2="161" stroke-width="1"/><line x1="312.5" y1="473" x2="312.5" y2="469" stroke-width="1"/><line x1="312.5" y1="157" x2="312.5" y2="161" stroke-width="1"/><line x1="325.0" y1="473" x2="325.0" y2="464" stroke-width="2"/><line x1="325.0" y1="157" x2="325.0" y2="166" stroke-width="2"/><line x1="338.5" y1="473" x2="338.5" y2="469" stroke-width="1"/><line x1="338.5" y1="157" x2="338.5" y2="161" stroke-width="1"/><line x1="350.5" y1="473" x2="350.5" y2="469" stroke-width="1"/><line x1="350.5" y1="157" x2="350.5" y2="161" stroke-width="1"/><line x1="363.5" y1="473" x2="363.5" y2="469" stroke-width="1"/><line x1="363.5" y1="157" x2="363.5" y2="161" stroke-width="1"/><line x1="376.5" y1="473" x2="376.5" y2="469" stroke-width="1"/><line x1="376.5" y1="157" x2="376.5" y2="161" stroke-width="1"/><line x1="389.0" y1="473" x2="389.0" y2="464" stroke-width="2"/><line x1="389.0" y1="157" x2="389.0" y2="166" stroke-width="2"/><line x1="401.5" y1="473" x2="401.5" y2="469" stroke-width="1"/><line x1="401.5" y1="157" x2="401.5" y2="161" stroke-width="1"/><line x1="414.5" y1="473" x2="414.5" y2="469" stroke-width="1"/><line x1="414.5" y1="157" x2="414.5" y2="161" stroke-width="1"/><line x1="426.5" y1="473" x2="426.5" y2="469" stroke-width="1"/><line x1="426.5" y1="157" x2="426.5" y2="161" stroke-width="1"/><line x1="439.5" y1="473" x2="439.5" y2="469" stroke-width="1"/><line x1="439.5" y1="157" x2="439.5" y2="161" stroke-width="1"/><line x1="452.0" y1="473" x2="452.0" y2="464" stroke-width="2"/><line x1="452.0" y1="157" x2="452.0" y2="166" stroke-width="2"/><line x1="465.5" y1="473" x2="465.5" y2="469" stroke-width="1"/><line x1="465.5" y1="157" x2="465.5" y2="161" stroke-width="1"/><line x1="477.5" y1="473" x2="477.5" y2="469" stroke-width="1"/><line x1="477.5" y1="157" x2="477.5" y2="161" stroke-width="1"/><line x1="490.5" y1="473" x2="490.5" y2="469" stroke-width="1"/><line x1="490.5" y1="157" x2="490.5" y2="161" stroke-width="1"/><line x1="503.5" y1="473" x2="503.5" y2="469" stroke-width="1"/><line x1="503.5" y1="157" x2="503.5" y2="161" stroke-width="1"/><line x1="516.0" y1="473" x2="516.0" y2="464" stroke-width="2"/><line x1="516.0" y1="157" x2="516.0" y2="166" stroke-width="2"/><line x1="528.5" y1="473" x2="528.5" y2="469" stroke-width="1"/><line x1="528.5" y1="157" x2="528.5" y2="161" stroke-width="1"/><line x1="541.5" y1="473" x2="541.5" y2="469" stroke-width="1"/><line x1="541.5" y1="157" x2="541.5" y2="161" stroke-width="1"/><line x1="553.5" y1="473" x2="553.5" y2="469" stroke-width="1"/><line x1="553.5" y1="157" x2="553.5" y2="161" stroke-width="1"/><line x1="566.5" y1="473" x2="566.5" y2="469" stroke-width="1"/><line x1="566.5" y1="157" x2="566.5" y2="161" stroke-width="1"/><line x1="579.0" y1="473" x2="579.0" y2="464" stroke-width="2"/><line x1="579.0" y1="157" x2="579.0" y2="166" stroke-width="2"/><line x1="592.5" y1="473" x2="592.5" y2="469" stroke-width="1"/><line x1="592.5" y1="157" x2="592.5" y2="161" stroke-width="1"/><line x1="604.5" y1="473" x2="604.5" y2="469" stroke-width="1"/><line x1="604.5" y1="157" x2="604.5" y2="161" stroke-width="1"/><line x1="617.5" y1="473" x2="617.5" y2="469" stroke-width="1"/><line x1="617.5" y1="157" x2="617.5" y2="161" stroke-width="1"/><line x1="630.5" y1="473" x2="630.5" y2="469" stroke-width="1"/><line x1="630.5" y1="157" x2="630.5" y2="161" stroke-width="1"/><line x1="643.0" y1="473" x2="643.0" y2="464" stroke-width="2"/><line x1="643.0" y1="157" x2="643.0" y2="166" stroke-width="2"/><line x1="655.5" y1="473" x2="655.5" y2="469" stroke-width="1"/><line x1="655.5" y1="157" x2="655.5" y2="161" stroke-width="1"/><line x1="668.5" y1="473" x2="668.5" y2="469" stroke-width="1"/><line x1="668.5" y1="157" x2="668.5" y2="161" stroke-width="1"/><line x1="680.5" y1="473" x2="680.5" y2="469" stroke-width="1"/><line x1="680.5" y1="157" x2="680.5" y2="161" stroke-width="1"/><line x1="693.5" y1="473" x2="693.5" y2="469" stroke-width="1"/><line x1="693.5" y1="157" x2="693.5" y2="161" stroke-width="1"/><line x1="706.0" y1="473" x2="706.0" y2="464" stroke-width="2"/><line x1="706.0" y1="157" x2="706.0" y2="166" stroke-width="2"/><line x1="719.5" y1="473" x2="719.5" y2="469" stroke-width="1"/><line x1="719.5" y1="157" x2="719.5" y2="161" stroke-width="1"/><line x1="731.5" y1="473" x2="731.5" y2="469" stroke-width="1"/><line x1="731.5" y1="157" x2="731.5" y2="161" stroke-width="1"/><line x1="744.5" y1="473" x2="744.5" y2="469" stroke-width="1"/><line x1="744.5" y1="157" x2="744.5" y2="161" stroke-width="1"/><line x1="757.5" y1="473" x2="757.5" y2="469" stroke-width="1"/><line x1="757.5" y1="157" x2="757.5" y2="161" stroke-width="1"/><line x1="136" y1="453.5" x2="140" y2="453.5" stroke-width="1"/><line x1="768" y1="453.5" x2="764" y2="453.5" stroke-width="1"/><line x1="136" y1="434.5" x2="140" y2="434.5" stroke-width="1"/><line x1="768" y1="434.5" x2="764" y2="434.5" stroke-width="1"/><line x1="136" y1="414.5" x2="140" y2="414.5" stroke-width="1"/><line x1="768" y1="414.5" x2="764" y2="414.5" stroke-width="1"/><line x1="136" y1="394.0" x2="145" y2="394.0" stroke-width="2"/><line x1="768" y1="394.0" x2="759" y2="394.0" stroke-width="2"/><line x1="136" y1="374.5" x2="140" y2="374.5" stroke-width="1"/><line x1="768" y1="374.5" x2="764" y2="374.5" stroke-width="1"/><line x1="136" y1="354.5" x2="140" y2="354.5" stroke-width="1"/><line x1="768" y1="354.5" x2="764" y2="354.5" stroke-width="1"/><line x1="136" y1="335.5" x2="140" y2="335.5" stroke-width="1"/><line x1="768" y1="335.5" x2="764" y2="335.5" stroke-width="1"/><line x1="136" y1="315.0" x2="145" y2="315.0" stroke-width="2"/><line x1="768" y1="315.0" x2="759" y2="315.0" stroke-width="2"/><line x1="136" y1="295.5" x2="140" y2="295.5" stroke-width="1"/><line x1="768" y1="295.5" x2="764" y2="295.5" stroke-width="1"/><line x1="136" y1="275.5" x2="140" y2="275.5" stroke-width="1"/><line x1="768" y1="275.5" x2="764" y2="275.5" stroke-width="1"/><line x1="136" y1="256.5" x2="140" y2="256.5" stroke-width="1"/><line x1="768" y1="256.5" x2="764" y2="256.5" stroke-width="1"/><line x1="136" y1="236.0" x2="145" y2="236.0" stroke-width="2"/><line x1="768" y1="236.0" x2="759" y2="236.0" stroke-width="2"/><line x1="136" y1="216.5" x2="140" y2="216.5" stroke-width="1"/><line x1="768" y1="216.5" x2="764" y2="216.5" stroke-width="1"/><line x1="136" y1="196.5" x2="140" y2="196.5" stroke-width="1"/><line x1="768" y1="196.5" x2="764" y2="196.5" stroke-width="1"/><line x1="136" y1="176.5" x2="140" y2="176.5" stroke-width="1"/><line x1="768" y1="176.5" x2="764" y2="176.5" stroke-width="1"/></g>
<rect x="136" y="157" width="632" height="316" fill="none" stroke="#000" stroke-width="2"/>
<g><rect x="784" y="247.5" width="18" height="22.5" fill="#f02020"/><rect x="784" y="270.0" width="18" height="22.5" fill="#ff5000"/><rect x="784" y="292.5" width="18" height="22.5" fill="#ffa000"/><rect x="784" y="315.0" width="18" height="22.5" fill="#ffff00"/><rect x="784" y="337.5" width="18" height="22.5" fill="#80ff00"/><rect x="784" y="360.0" width="18" height="22.5" fill="#00ff80"/><rect x="784" y="382.5" width="18" height="22.5" fill="#00ffff"/><rect x="784" y="405.0" width="18" height="22.5" fill="#0060ff"/><rect x="784" y="427.5" width="18" height="22.5" fill="#0000a0"/><rect x="784" y="450.0" width="18" height="22.5" fill="#3000a0"/><line x1="783" y1="247.5" x2="803" y2="247.5" stroke="#000" stroke-width="2"/><line x1="783" y1="270.0" x2="803" y2="270.0" stroke="#000" stroke-width="2"/><line x1="783" y1="292.5" x2="803" y2="292.5" stroke="#000" stroke-width="2"/><line x1="783" y1="315.0" x2="803" y2="315.0" stroke="#000" stroke-width="2"/><line x1="783" y1="337.5" x2="803" y2="337.5" stroke="#000" stroke-width="2"/><line x1="783" y1="360.0" x2="803" y2="360.0" stroke="#000" stroke-width="2"/><line x1="783" y1="382.5" x2="803" y2="382.5" stroke="#000" stroke-width="2"/><line x1="783" y1="405.0" x2="803" y2="405.0" stroke="#000" stroke-width="2"/><line x1="783" y1="427.5" x2="803" y2="427.5" stroke="#000" stroke-width="2"/><line x1="783" y1="450.0" x2="803" y2="450.0" stroke="#000" stroke-width="2"/><line x1="783" y1="472.5" x2="803" y2="472.5" stroke="#000" stroke-width="2"/><polygon points="784,247.5 802,247.5 793,206" fill="#ffa0a0"/><polygon points="784,472.5 802,472.5 793,514" fill="#8000a0"/></g>
<g stroke="#000" stroke-width="2"><path d="M784,247.5 L793,206 L802,247.5 L802,472.5 L793,514 L784,472.5 Z" fill="none" stroke="#000" stroke-width="2" stroke-linejoin="miter"/></g>
<text x="223.5" y="112.5" font-size="27.5" stroke="#fff" stroke-width="0.45" textLength="458" lengthAdjust="spacing" word-spacing="4">potential temperature deviation</text>
<text x="47" y="134.5" font-size="16.5" stroke="#000" stroke-width="0.25" textLength="84" lengthAdjust="spacingAndGlyphs">(x1E4 m)</text>
<text x="689" y="517" font-size="16.5" stroke="#000" stroke-width="0.25" textLength="85" lengthAdjust="spacingAndGlyphs">(x1E4 m)</text>
<text x="778" y="169" font-size="16" stroke="#fff" stroke-width="0.2" textLength="120" lengthAdjust="spacingAndGlyphs">t=4.7952e+06</text>
<text x="378" y="547" font-size="23.5" stroke="#fff" stroke-width="0.3" textLength="148" lengthAdjust="spacing" word-spacing="3">X coordinate</text>
<text transform="translate(99.5,389.5) rotate(-90)" font-size="23.5" stroke="#fff" stroke-width="0.3" textLength="148" lengthAdjust="spacing" word-spacing="3">Z coordinate</text>
<text x="197.7" y="495" font-size="18.5" stroke="#000" stroke-width="0.25" text-anchor="middle">1</text>
<text x="263.4" y="495" font-size="18.5" stroke="#000" stroke-width="0.25" text-anchor="middle">2</text>
<text x="326.6" y="495" font-size="18.5" stroke="#000" stroke-width="0.25" text-anchor="middle">3</text>
<text x="389.8" y="495" font-size="18.5" stroke="#000" stroke-width="0.25" text-anchor="middle">4</text>
<text x="453.0" y="495" font-size="18.5" stroke="#000" stroke-width="0.25" text-anchor="middle">5</text>
<text x="516.2" y="495" font-size="18.5" stroke="#000" stroke-width="0.25" text-anchor="middle">6</text>
<text x="579.4" y="495" font-size="18.5" stroke="#000" stroke-width="0.25" text-anchor="middle">7</text>
<text x="642.6" y="495" font-size="18.5" stroke="#000" stroke-width="0.25" text-anchor="middle">8</text>
<text x="705.8" y="495" font-size="18.5" stroke="#000" stroke-width="0.25" text-anchor="middle">9</text>
<text x="127" y="399.5" font-size="18.5" stroke="#000" stroke-width="0.25" text-anchor="end">2</text>
<text x="127" y="320.5" font-size="18.5" stroke="#000" stroke-width="0.25" text-anchor="end">4</text>
<text x="127" y="241.5" font-size="18.5" stroke="#000" stroke-width="0.25" text-anchor="end">6</text>
<text x="810" y="275" font-size="15.5" stroke="#000" stroke-width="0.25" textLength="35" lengthAdjust="spacingAndGlyphs">0.32</text>
<text x="810" y="320" font-size="15.5" stroke="#000" stroke-width="0.25" textLength="35" lengthAdjust="spacingAndGlyphs">0.16</text>
<text x="810" y="365" font-size="15.5" stroke="#000" stroke-width="0.25">0</text>
<text x="810" y="410" font-size="15.5" stroke="#000" stroke-width="0.25" textLength="47" lengthAdjust="spacingAndGlyphs">−0.16</text>
<text x="810" y="455" font-size="15.5" stroke="#000" stroke-width="0.25" textLength="47" lengthAdjust="spacingAndGlyphs">−0.32</text>
</svg></body></html>
